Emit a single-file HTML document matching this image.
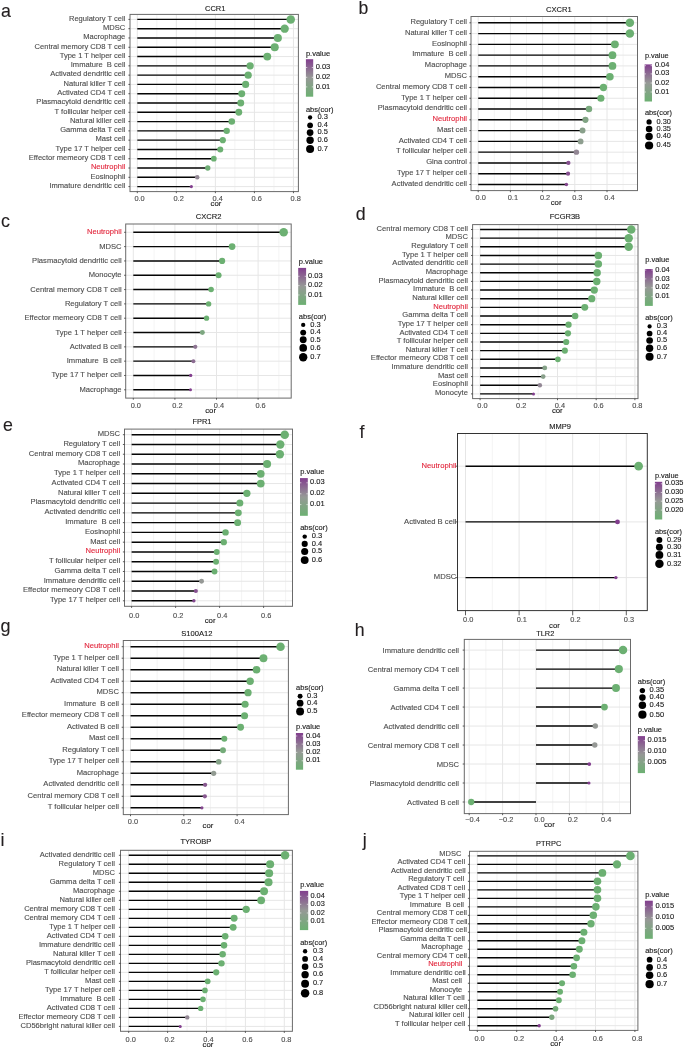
<!DOCTYPE html>
<html><head><meta charset="utf-8"><style>
html,body{margin:0;padding:0;background:#fff;width:685px;height:1049px;overflow:hidden}
svg{display:block;will-change:transform}
text{font-family:"Liberation Sans", sans-serif}
</style></head><body>
<svg width="685" height="1049" viewBox="0 0 685 1049">
<rect width="685" height="1049" fill="#fff"/>
<g>
<line x1="156.82" x2="156.82" y1="14.4" y2="191.6" stroke="#ececec" stroke-width="0.6"/>
<line x1="195.86" x2="195.86" y1="14.4" y2="191.6" stroke="#ececec" stroke-width="0.6"/>
<line x1="234.90" x2="234.90" y1="14.4" y2="191.6" stroke="#ececec" stroke-width="0.6"/>
<line x1="273.94" x2="273.94" y1="14.4" y2="191.6" stroke="#ececec" stroke-width="0.6"/>
<line x1="137.30" x2="137.30" y1="14.4" y2="191.6" stroke="#e6e6e6" stroke-width="1.0"/>
<line x1="176.34" x2="176.34" y1="14.4" y2="191.6" stroke="#e6e6e6" stroke-width="1.0"/>
<line x1="215.38" x2="215.38" y1="14.4" y2="191.6" stroke="#e6e6e6" stroke-width="1.0"/>
<line x1="254.42" x2="254.42" y1="14.4" y2="191.6" stroke="#e6e6e6" stroke-width="1.0"/>
<line x1="293.46" x2="293.46" y1="14.4" y2="191.6" stroke="#e6e6e6" stroke-width="1.0"/>
<line x1="130.0" x2="298.4" y1="19.40" y2="19.40" stroke="#e6e6e6" stroke-width="1.0"/>
<line x1="130.0" x2="298.4" y1="28.69" y2="28.69" stroke="#e6e6e6" stroke-width="1.0"/>
<line x1="130.0" x2="298.4" y1="37.98" y2="37.98" stroke="#e6e6e6" stroke-width="1.0"/>
<line x1="130.0" x2="298.4" y1="47.27" y2="47.27" stroke="#e6e6e6" stroke-width="1.0"/>
<line x1="130.0" x2="298.4" y1="56.56" y2="56.56" stroke="#e6e6e6" stroke-width="1.0"/>
<line x1="130.0" x2="298.4" y1="65.84" y2="65.84" stroke="#e6e6e6" stroke-width="1.0"/>
<line x1="130.0" x2="298.4" y1="75.13" y2="75.13" stroke="#e6e6e6" stroke-width="1.0"/>
<line x1="130.0" x2="298.4" y1="84.42" y2="84.42" stroke="#e6e6e6" stroke-width="1.0"/>
<line x1="130.0" x2="298.4" y1="93.71" y2="93.71" stroke="#e6e6e6" stroke-width="1.0"/>
<line x1="130.0" x2="298.4" y1="103.00" y2="103.00" stroke="#e6e6e6" stroke-width="1.0"/>
<line x1="130.0" x2="298.4" y1="112.29" y2="112.29" stroke="#e6e6e6" stroke-width="1.0"/>
<line x1="130.0" x2="298.4" y1="121.58" y2="121.58" stroke="#e6e6e6" stroke-width="1.0"/>
<line x1="130.0" x2="298.4" y1="130.87" y2="130.87" stroke="#e6e6e6" stroke-width="1.0"/>
<line x1="130.0" x2="298.4" y1="140.16" y2="140.16" stroke="#e6e6e6" stroke-width="1.0"/>
<line x1="130.0" x2="298.4" y1="149.44" y2="149.44" stroke="#e6e6e6" stroke-width="1.0"/>
<line x1="130.0" x2="298.4" y1="158.73" y2="158.73" stroke="#e6e6e6" stroke-width="1.0"/>
<line x1="130.0" x2="298.4" y1="168.02" y2="168.02" stroke="#e6e6e6" stroke-width="1.0"/>
<line x1="130.0" x2="298.4" y1="177.31" y2="177.31" stroke="#e6e6e6" stroke-width="1.0"/>
<line x1="130.0" x2="298.4" y1="186.60" y2="186.60" stroke="#e6e6e6" stroke-width="1.0"/>
<rect x="130.0" y="14.4" width="168.39999999999998" height="177.2" fill="none" stroke="#6a6a6a" stroke-width="1.0"/>
<line x1="128.4" x2="130.0" y1="19.40" y2="19.40" stroke="#333" stroke-width="0.8"/>
<line x1="128.4" x2="130.0" y1="28.69" y2="28.69" stroke="#333" stroke-width="0.8"/>
<line x1="128.4" x2="130.0" y1="37.98" y2="37.98" stroke="#333" stroke-width="0.8"/>
<line x1="128.4" x2="130.0" y1="47.27" y2="47.27" stroke="#333" stroke-width="0.8"/>
<line x1="128.4" x2="130.0" y1="56.56" y2="56.56" stroke="#333" stroke-width="0.8"/>
<line x1="128.4" x2="130.0" y1="65.84" y2="65.84" stroke="#333" stroke-width="0.8"/>
<line x1="128.4" x2="130.0" y1="75.13" y2="75.13" stroke="#333" stroke-width="0.8"/>
<line x1="128.4" x2="130.0" y1="84.42" y2="84.42" stroke="#333" stroke-width="0.8"/>
<line x1="128.4" x2="130.0" y1="93.71" y2="93.71" stroke="#333" stroke-width="0.8"/>
<line x1="128.4" x2="130.0" y1="103.00" y2="103.00" stroke="#333" stroke-width="0.8"/>
<line x1="128.4" x2="130.0" y1="112.29" y2="112.29" stroke="#333" stroke-width="0.8"/>
<line x1="128.4" x2="130.0" y1="121.58" y2="121.58" stroke="#333" stroke-width="0.8"/>
<line x1="128.4" x2="130.0" y1="130.87" y2="130.87" stroke="#333" stroke-width="0.8"/>
<line x1="128.4" x2="130.0" y1="140.16" y2="140.16" stroke="#333" stroke-width="0.8"/>
<line x1="128.4" x2="130.0" y1="149.44" y2="149.44" stroke="#333" stroke-width="0.8"/>
<line x1="128.4" x2="130.0" y1="158.73" y2="158.73" stroke="#333" stroke-width="0.8"/>
<line x1="128.4" x2="130.0" y1="168.02" y2="168.02" stroke="#333" stroke-width="0.8"/>
<line x1="128.4" x2="130.0" y1="177.31" y2="177.31" stroke="#333" stroke-width="0.8"/>
<line x1="128.4" x2="130.0" y1="186.60" y2="186.60" stroke="#333" stroke-width="0.8"/>
<line x1="137.30" x2="137.30" y1="191.6" y2="193.2" stroke="#333" stroke-width="0.8"/>
<line x1="176.34" x2="176.34" y1="191.6" y2="193.2" stroke="#333" stroke-width="0.8"/>
<line x1="215.38" x2="215.38" y1="191.6" y2="193.2" stroke="#333" stroke-width="0.8"/>
<line x1="254.42" x2="254.42" y1="191.6" y2="193.2" stroke="#333" stroke-width="0.8"/>
<line x1="293.46" x2="293.46" y1="191.6" y2="193.2" stroke="#333" stroke-width="0.8"/>
<line x1="137.30" x2="290.73" y1="19.40" y2="19.40" stroke="#050505" stroke-width="1.4"/>
<line x1="137.30" x2="284.68" y1="28.69" y2="28.69" stroke="#050505" stroke-width="1.4"/>
<line x1="137.30" x2="277.84" y1="37.98" y2="37.98" stroke="#050505" stroke-width="1.4"/>
<line x1="137.30" x2="274.72" y1="47.27" y2="47.27" stroke="#050505" stroke-width="1.4"/>
<line x1="137.30" x2="267.30" y1="56.56" y2="56.56" stroke="#050505" stroke-width="1.4"/>
<line x1="137.30" x2="250.13" y1="65.84" y2="65.84" stroke="#050505" stroke-width="1.4"/>
<line x1="137.30" x2="248.17" y1="75.13" y2="75.13" stroke="#050505" stroke-width="1.4"/>
<line x1="137.30" x2="245.64" y1="84.42" y2="84.42" stroke="#050505" stroke-width="1.4"/>
<line x1="137.30" x2="241.73" y1="93.71" y2="93.71" stroke="#050505" stroke-width="1.4"/>
<line x1="137.30" x2="240.76" y1="103.00" y2="103.00" stroke="#050505" stroke-width="1.4"/>
<line x1="137.30" x2="238.80" y1="112.29" y2="112.29" stroke="#050505" stroke-width="1.4"/>
<line x1="137.30" x2="231.78" y1="121.58" y2="121.58" stroke="#050505" stroke-width="1.4"/>
<line x1="137.30" x2="226.70" y1="130.87" y2="130.87" stroke="#050505" stroke-width="1.4"/>
<line x1="137.30" x2="222.80" y1="140.16" y2="140.16" stroke="#050505" stroke-width="1.4"/>
<line x1="137.30" x2="220.26" y1="149.44" y2="149.44" stroke="#050505" stroke-width="1.4"/>
<line x1="137.30" x2="213.82" y1="158.73" y2="158.73" stroke="#050505" stroke-width="1.4"/>
<line x1="137.30" x2="207.77" y1="168.02" y2="168.02" stroke="#050505" stroke-width="1.4"/>
<line x1="137.30" x2="197.23" y1="177.31" y2="177.31" stroke="#050505" stroke-width="1.4"/>
<line x1="137.30" x2="191.37" y1="186.60" y2="186.60" stroke="#050505" stroke-width="1.4"/>
<circle cx="290.73" cy="19.40" r="4.25" fill="#6cb072"/>
<circle cx="284.68" cy="28.69" r="4.17" fill="#6cb072"/>
<circle cx="277.84" cy="37.98" r="4.07" fill="#6cb072"/>
<circle cx="274.72" cy="47.27" r="4.03" fill="#6cb072"/>
<circle cx="267.30" cy="56.56" r="3.92" fill="#6cb072"/>
<circle cx="250.13" cy="65.84" r="3.64" fill="#6cb072"/>
<circle cx="248.17" cy="75.13" r="3.60" fill="#6cb072"/>
<circle cx="245.64" cy="84.42" r="3.56" fill="#6cb072"/>
<circle cx="241.73" cy="93.71" r="3.49" fill="#6cb072"/>
<circle cx="240.76" cy="103.00" r="3.47" fill="#6cb072"/>
<circle cx="238.80" cy="112.29" r="3.43" fill="#6cb072"/>
<circle cx="231.78" cy="121.58" r="3.29" fill="#6cb072"/>
<circle cx="226.70" cy="130.87" r="3.18" fill="#6cb072"/>
<circle cx="222.80" cy="140.16" r="3.09" fill="#6cb072"/>
<circle cx="220.26" cy="149.44" r="3.03" fill="#6cb072"/>
<circle cx="213.82" cy="158.73" r="2.86" fill="#6cb072"/>
<circle cx="207.77" cy="168.02" r="2.68" fill="#70ae76"/>
<circle cx="197.23" cy="177.31" r="2.24" fill="#928794"/>
<circle cx="191.37" cy="186.60" r="1.60" fill="#823e8e"/>
<text x="125.30" y="20.70" font-size="7.55" text-anchor="end" fill="#4d4d4d" stroke="#4d4d4d" stroke-width="0.12"  xml:space="preserve">Regulatory T cell</text>
<text x="125.30" y="29.99" font-size="7.55" text-anchor="end" fill="#4d4d4d" stroke="#4d4d4d" stroke-width="0.12"  xml:space="preserve">MDSC</text>
<text x="125.30" y="39.28" font-size="7.55" text-anchor="end" fill="#4d4d4d" stroke="#4d4d4d" stroke-width="0.12"  xml:space="preserve">Macrophage</text>
<text x="125.30" y="48.57" font-size="7.55" text-anchor="end" fill="#4d4d4d" stroke="#4d4d4d" stroke-width="0.12"  xml:space="preserve">Central memory CD8 T cell</text>
<text x="125.30" y="57.86" font-size="7.55" text-anchor="end" fill="#4d4d4d" stroke="#4d4d4d" stroke-width="0.12"  xml:space="preserve">Type 1 T helper cell</text>
<text x="125.30" y="67.14" font-size="7.55" text-anchor="end" fill="#4d4d4d" stroke="#4d4d4d" stroke-width="0.12"  xml:space="preserve">Immature  B cell</text>
<text x="125.30" y="76.43" font-size="7.55" text-anchor="end" fill="#4d4d4d" stroke="#4d4d4d" stroke-width="0.12"  xml:space="preserve">Activated dendritic cell</text>
<text x="125.30" y="85.72" font-size="7.55" text-anchor="end" fill="#4d4d4d" stroke="#4d4d4d" stroke-width="0.12"  xml:space="preserve">Natural killer T cell</text>
<text x="125.30" y="95.01" font-size="7.55" text-anchor="end" fill="#4d4d4d" stroke="#4d4d4d" stroke-width="0.12"  xml:space="preserve">Activated CD4 T cell</text>
<text x="125.30" y="104.30" font-size="7.55" text-anchor="end" fill="#4d4d4d" stroke="#4d4d4d" stroke-width="0.12"  xml:space="preserve">Plasmacytoid dendritic cell</text>
<text x="125.30" y="113.59" font-size="7.55" text-anchor="end" fill="#4d4d4d" stroke="#4d4d4d" stroke-width="0.12"  xml:space="preserve">T follicular helper cell</text>
<text x="125.30" y="122.88" font-size="7.55" text-anchor="end" fill="#4d4d4d" stroke="#4d4d4d" stroke-width="0.12"  xml:space="preserve">Natural killer cell</text>
<text x="125.30" y="132.17" font-size="7.55" text-anchor="end" fill="#4d4d4d" stroke="#4d4d4d" stroke-width="0.12"  xml:space="preserve">Gamma delta T cell</text>
<text x="125.30" y="141.46" font-size="7.55" text-anchor="end" fill="#4d4d4d" stroke="#4d4d4d" stroke-width="0.12"  xml:space="preserve">Mast cell</text>
<text x="125.30" y="150.74" font-size="7.55" text-anchor="end" fill="#4d4d4d" stroke="#4d4d4d" stroke-width="0.12"  xml:space="preserve">Type 17 T helper cell</text>
<text x="125.30" y="160.03" font-size="7.55" text-anchor="end" fill="#4d4d4d" stroke="#4d4d4d" stroke-width="0.12"  xml:space="preserve">Effector memeory CD8 T cell</text>
<text x="125.30" y="169.32" font-size="7.55" text-anchor="end" fill="#e2263c" stroke="#e2263c" stroke-width="0.12"  xml:space="preserve">Neutrophil</text>
<text x="125.30" y="178.61" font-size="7.55" text-anchor="end" fill="#4d4d4d" stroke="#4d4d4d" stroke-width="0.12"  xml:space="preserve">Eosinophil</text>
<text x="125.30" y="187.90" font-size="7.55" text-anchor="end" fill="#4d4d4d" stroke="#4d4d4d" stroke-width="0.12"  xml:space="preserve">Immature dendritic cell</text>
<text x="139.60" y="201.00" font-size="7.4" text-anchor="middle" fill="#4d4d4d" stroke="#4d4d4d" stroke-width="0.12"  xml:space="preserve">0.0</text>
<text x="178.64" y="201.00" font-size="7.4" text-anchor="middle" fill="#4d4d4d" stroke="#4d4d4d" stroke-width="0.12"  xml:space="preserve">0.2</text>
<text x="217.68" y="201.00" font-size="7.4" text-anchor="middle" fill="#4d4d4d" stroke="#4d4d4d" stroke-width="0.12"  xml:space="preserve">0.4</text>
<text x="256.72" y="201.00" font-size="7.4" text-anchor="middle" fill="#4d4d4d" stroke="#4d4d4d" stroke-width="0.12"  xml:space="preserve">0.6</text>
<text x="295.76" y="201.00" font-size="7.4" text-anchor="middle" fill="#4d4d4d" stroke="#4d4d4d" stroke-width="0.12"  xml:space="preserve">0.8</text>
<text x="216.00" y="206.40" font-size="7.8" text-anchor="middle" fill="#1a1a1a" stroke="#1a1a1a" stroke-width="0.12"  xml:space="preserve">cor</text>
<text x="215.20" y="11.30" font-size="7.5" text-anchor="middle" fill="#1a1a1a" stroke="#1a1a1a" stroke-width="0.12"  xml:space="preserve">CCR1</text>
<text x="0.90" y="16.50" font-size="17.8" text-anchor="start" fill="#231f20" stroke="#231f20" stroke-width="0.12"  xml:space="preserve">a</text>
<text x="305.90" y="55.80" font-size="7.5" text-anchor="start" fill="#1a1a1a" stroke="#1a1a1a" stroke-width="0.12"  xml:space="preserve">p.value</text>
<defs><linearGradient id="g120" x1="0" y1="0" x2="0" y2="1"><stop offset="0" stop-color="#823e8e"/><stop offset="0.5" stop-color="#969996"/><stop offset="1" stop-color="#6cb072"/></linearGradient></defs>
<rect x="305.9" y="59.2" width="7.300000000000011" height="37.5" fill="url(#g120)"/>
<line x1="305.9" x2="307.29999999999995" y1="67.5" y2="67.5" stroke="#fff" stroke-width="0.6"/>
<line x1="311.8" x2="313.2" y1="67.5" y2="67.5" stroke="#fff" stroke-width="0.6"/>
<text x="315.70" y="69.10" font-size="7.5" text-anchor="start" fill="#1a1a1a" stroke="#1a1a1a" stroke-width="0.12"  xml:space="preserve">0.03</text>
<line x1="305.9" x2="307.29999999999995" y1="77.3" y2="77.3" stroke="#fff" stroke-width="0.6"/>
<line x1="311.8" x2="313.2" y1="77.3" y2="77.3" stroke="#fff" stroke-width="0.6"/>
<text x="315.70" y="78.90" font-size="7.5" text-anchor="start" fill="#1a1a1a" stroke="#1a1a1a" stroke-width="0.12"  xml:space="preserve">0.02</text>
<line x1="305.9" x2="307.29999999999995" y1="86.89999999999999" y2="86.89999999999999" stroke="#fff" stroke-width="0.6"/>
<line x1="311.8" x2="313.2" y1="86.89999999999999" y2="86.89999999999999" stroke="#fff" stroke-width="0.6"/>
<text x="315.70" y="88.50" font-size="7.5" text-anchor="start" fill="#1a1a1a" stroke="#1a1a1a" stroke-width="0.12"  xml:space="preserve">0.01</text>
<text x="305.90" y="112.10" font-size="7.5" text-anchor="start" fill="#1a1a1a" stroke="#1a1a1a" stroke-width="0.12"  xml:space="preserve">abs(cor)</text>
<circle cx="310.1" cy="117.5" r="2.16" fill="#000"/>
<text x="317.40" y="119.30" font-size="7.5" text-anchor="start" fill="#1a1a1a" stroke="#1a1a1a" stroke-width="0.12"  xml:space="preserve">0.3</text>
<circle cx="310.1" cy="125.3" r="2.90" fill="#000"/>
<text x="317.40" y="127.10" font-size="7.5" text-anchor="start" fill="#1a1a1a" stroke="#1a1a1a" stroke-width="0.12"  xml:space="preserve">0.4</text>
<circle cx="310.1" cy="132.6" r="3.35" fill="#000"/>
<text x="317.40" y="134.40" font-size="7.5" text-anchor="start" fill="#1a1a1a" stroke="#1a1a1a" stroke-width="0.12"  xml:space="preserve">0.5</text>
<circle cx="310.1" cy="140.3" r="3.71" fill="#000"/>
<text x="317.40" y="142.10" font-size="7.5" text-anchor="start" fill="#1a1a1a" stroke="#1a1a1a" stroke-width="0.12"  xml:space="preserve">0.6</text>
<circle cx="310.1" cy="148.9" r="4.02" fill="#000"/>
<text x="317.40" y="150.70" font-size="7.5" text-anchor="start" fill="#1a1a1a" stroke="#1a1a1a" stroke-width="0.12"  xml:space="preserve">0.7</text>
</g>
<g>
<line x1="494.30" x2="494.30" y1="16.5" y2="190.6" stroke="#ececec" stroke-width="0.6"/>
<line x1="526.50" x2="526.50" y1="16.5" y2="190.6" stroke="#ececec" stroke-width="0.6"/>
<line x1="558.70" x2="558.70" y1="16.5" y2="190.6" stroke="#ececec" stroke-width="0.6"/>
<line x1="590.90" x2="590.90" y1="16.5" y2="190.6" stroke="#ececec" stroke-width="0.6"/>
<line x1="623.10" x2="623.10" y1="16.5" y2="190.6" stroke="#ececec" stroke-width="0.6"/>
<line x1="478.20" x2="478.20" y1="16.5" y2="190.6" stroke="#e6e6e6" stroke-width="1.0"/>
<line x1="510.40" x2="510.40" y1="16.5" y2="190.6" stroke="#e6e6e6" stroke-width="1.0"/>
<line x1="542.60" x2="542.60" y1="16.5" y2="190.6" stroke="#e6e6e6" stroke-width="1.0"/>
<line x1="574.80" x2="574.80" y1="16.5" y2="190.6" stroke="#e6e6e6" stroke-width="1.0"/>
<line x1="607.00" x2="607.00" y1="16.5" y2="190.6" stroke="#e6e6e6" stroke-width="1.0"/>
<line x1="471.0" x2="637.5" y1="22.80" y2="22.80" stroke="#e6e6e6" stroke-width="1.0"/>
<line x1="471.0" x2="637.5" y1="33.58" y2="33.58" stroke="#e6e6e6" stroke-width="1.0"/>
<line x1="471.0" x2="637.5" y1="44.36" y2="44.36" stroke="#e6e6e6" stroke-width="1.0"/>
<line x1="471.0" x2="637.5" y1="55.14" y2="55.14" stroke="#e6e6e6" stroke-width="1.0"/>
<line x1="471.0" x2="637.5" y1="65.92" y2="65.92" stroke="#e6e6e6" stroke-width="1.0"/>
<line x1="471.0" x2="637.5" y1="76.70" y2="76.70" stroke="#e6e6e6" stroke-width="1.0"/>
<line x1="471.0" x2="637.5" y1="87.48" y2="87.48" stroke="#e6e6e6" stroke-width="1.0"/>
<line x1="471.0" x2="637.5" y1="98.26" y2="98.26" stroke="#e6e6e6" stroke-width="1.0"/>
<line x1="471.0" x2="637.5" y1="109.04" y2="109.04" stroke="#e6e6e6" stroke-width="1.0"/>
<line x1="471.0" x2="637.5" y1="119.82" y2="119.82" stroke="#e6e6e6" stroke-width="1.0"/>
<line x1="471.0" x2="637.5" y1="130.60" y2="130.60" stroke="#e6e6e6" stroke-width="1.0"/>
<line x1="471.0" x2="637.5" y1="141.38" y2="141.38" stroke="#e6e6e6" stroke-width="1.0"/>
<line x1="471.0" x2="637.5" y1="152.16" y2="152.16" stroke="#e6e6e6" stroke-width="1.0"/>
<line x1="471.0" x2="637.5" y1="162.94" y2="162.94" stroke="#e6e6e6" stroke-width="1.0"/>
<line x1="471.0" x2="637.5" y1="173.72" y2="173.72" stroke="#e6e6e6" stroke-width="1.0"/>
<line x1="471.0" x2="637.5" y1="184.50" y2="184.50" stroke="#e6e6e6" stroke-width="1.0"/>
<rect x="471.0" y="16.5" width="166.5" height="174.1" fill="none" stroke="#6a6a6a" stroke-width="1.0"/>
<line x1="469.4" x2="471.0" y1="22.80" y2="22.80" stroke="#333" stroke-width="0.8"/>
<line x1="469.4" x2="471.0" y1="33.58" y2="33.58" stroke="#333" stroke-width="0.8"/>
<line x1="469.4" x2="471.0" y1="44.36" y2="44.36" stroke="#333" stroke-width="0.8"/>
<line x1="469.4" x2="471.0" y1="55.14" y2="55.14" stroke="#333" stroke-width="0.8"/>
<line x1="469.4" x2="471.0" y1="65.92" y2="65.92" stroke="#333" stroke-width="0.8"/>
<line x1="469.4" x2="471.0" y1="76.70" y2="76.70" stroke="#333" stroke-width="0.8"/>
<line x1="469.4" x2="471.0" y1="87.48" y2="87.48" stroke="#333" stroke-width="0.8"/>
<line x1="469.4" x2="471.0" y1="98.26" y2="98.26" stroke="#333" stroke-width="0.8"/>
<line x1="469.4" x2="471.0" y1="109.04" y2="109.04" stroke="#333" stroke-width="0.8"/>
<line x1="469.4" x2="471.0" y1="119.82" y2="119.82" stroke="#333" stroke-width="0.8"/>
<line x1="469.4" x2="471.0" y1="130.60" y2="130.60" stroke="#333" stroke-width="0.8"/>
<line x1="469.4" x2="471.0" y1="141.38" y2="141.38" stroke="#333" stroke-width="0.8"/>
<line x1="469.4" x2="471.0" y1="152.16" y2="152.16" stroke="#333" stroke-width="0.8"/>
<line x1="469.4" x2="471.0" y1="162.94" y2="162.94" stroke="#333" stroke-width="0.8"/>
<line x1="469.4" x2="471.0" y1="173.72" y2="173.72" stroke="#333" stroke-width="0.8"/>
<line x1="469.4" x2="471.0" y1="184.50" y2="184.50" stroke="#333" stroke-width="0.8"/>
<line x1="478.20" x2="478.20" y1="190.6" y2="192.2" stroke="#333" stroke-width="0.8"/>
<line x1="510.40" x2="510.40" y1="190.6" y2="192.2" stroke="#333" stroke-width="0.8"/>
<line x1="542.60" x2="542.60" y1="190.6" y2="192.2" stroke="#333" stroke-width="0.8"/>
<line x1="574.80" x2="574.80" y1="190.6" y2="192.2" stroke="#333" stroke-width="0.8"/>
<line x1="607.00" x2="607.00" y1="190.6" y2="192.2" stroke="#333" stroke-width="0.8"/>
<line x1="478.20" x2="629.86" y1="22.80" y2="22.80" stroke="#050505" stroke-width="1.4"/>
<line x1="478.20" x2="629.86" y1="33.58" y2="33.58" stroke="#050505" stroke-width="1.4"/>
<line x1="478.20" x2="614.89" y1="44.36" y2="44.36" stroke="#050505" stroke-width="1.4"/>
<line x1="478.20" x2="612.47" y1="55.14" y2="55.14" stroke="#050505" stroke-width="1.4"/>
<line x1="478.20" x2="612.47" y1="65.92" y2="65.92" stroke="#050505" stroke-width="1.4"/>
<line x1="478.20" x2="609.90" y1="76.70" y2="76.70" stroke="#050505" stroke-width="1.4"/>
<line x1="478.20" x2="603.46" y1="87.48" y2="87.48" stroke="#050505" stroke-width="1.4"/>
<line x1="478.20" x2="600.88" y1="98.26" y2="98.26" stroke="#050505" stroke-width="1.4"/>
<line x1="478.20" x2="588.97" y1="109.04" y2="109.04" stroke="#050505" stroke-width="1.4"/>
<line x1="478.20" x2="585.43" y1="119.82" y2="119.82" stroke="#050505" stroke-width="1.4"/>
<line x1="478.20" x2="582.53" y1="130.60" y2="130.60" stroke="#050505" stroke-width="1.4"/>
<line x1="478.20" x2="580.60" y1="141.38" y2="141.38" stroke="#050505" stroke-width="1.4"/>
<line x1="478.20" x2="576.41" y1="152.16" y2="152.16" stroke="#050505" stroke-width="1.4"/>
<line x1="478.20" x2="568.36" y1="162.94" y2="162.94" stroke="#050505" stroke-width="1.4"/>
<line x1="478.20" x2="568.04" y1="173.72" y2="173.72" stroke="#050505" stroke-width="1.4"/>
<line x1="478.20" x2="566.43" y1="184.50" y2="184.50" stroke="#050505" stroke-width="1.4"/>
<circle cx="629.86" cy="22.80" r="4.25" fill="#6cb072"/>
<circle cx="629.86" cy="33.58" r="4.25" fill="#6cb072"/>
<circle cx="614.89" cy="44.36" r="3.93" fill="#6cb072"/>
<circle cx="612.47" cy="55.14" r="3.87" fill="#6cb072"/>
<circle cx="612.47" cy="65.92" r="3.87" fill="#6cb072"/>
<circle cx="609.90" cy="76.70" r="3.81" fill="#6cb072"/>
<circle cx="603.46" cy="87.48" r="3.65" fill="#6cb072"/>
<circle cx="600.88" cy="98.26" r="3.58" fill="#6cb072"/>
<circle cx="588.97" cy="109.04" r="3.22" fill="#79a97d"/>
<circle cx="585.43" cy="119.82" r="3.10" fill="#81a484"/>
<circle cx="582.53" cy="130.60" r="2.98" fill="#89a08b"/>
<circle cx="580.60" cy="141.38" r="2.91" fill="#8e9e8f"/>
<circle cx="576.41" cy="152.16" r="2.71" fill="#928794"/>
<circle cx="568.36" cy="162.94" r="2.15" fill="#865090"/>
<circle cx="568.04" cy="173.72" r="2.11" fill="#865090"/>
<circle cx="566.43" cy="184.50" r="1.70" fill="#84478f"/>
<text x="467.00" y="24.10" font-size="7.58" text-anchor="end" fill="#4d4d4d" stroke="#4d4d4d" stroke-width="0.12"  xml:space="preserve">Regulatory T cell</text>
<text x="467.00" y="34.88" font-size="7.58" text-anchor="end" fill="#4d4d4d" stroke="#4d4d4d" stroke-width="0.12"  xml:space="preserve">Natural killer T cell</text>
<text x="467.00" y="45.66" font-size="7.58" text-anchor="end" fill="#4d4d4d" stroke="#4d4d4d" stroke-width="0.12"  xml:space="preserve">Eosinophil</text>
<text x="467.00" y="56.44" font-size="7.58" text-anchor="end" fill="#4d4d4d" stroke="#4d4d4d" stroke-width="0.12"  xml:space="preserve">Immature  B cell</text>
<text x="467.00" y="67.22" font-size="7.58" text-anchor="end" fill="#4d4d4d" stroke="#4d4d4d" stroke-width="0.12"  xml:space="preserve">Macrophage</text>
<text x="467.00" y="78.00" font-size="7.58" text-anchor="end" fill="#4d4d4d" stroke="#4d4d4d" stroke-width="0.12"  xml:space="preserve">MDSC</text>
<text x="467.00" y="88.78" font-size="7.58" text-anchor="end" fill="#4d4d4d" stroke="#4d4d4d" stroke-width="0.12"  xml:space="preserve">Central memory CD8 T cell</text>
<text x="467.00" y="99.56" font-size="7.58" text-anchor="end" fill="#4d4d4d" stroke="#4d4d4d" stroke-width="0.12"  xml:space="preserve">Type 1 T helper cell</text>
<text x="467.00" y="110.34" font-size="7.58" text-anchor="end" fill="#4d4d4d" stroke="#4d4d4d" stroke-width="0.12"  xml:space="preserve">Plasmacytoid dendritic cell</text>
<text x="467.00" y="121.12" font-size="7.58" text-anchor="end" fill="#e2263c" stroke="#e2263c" stroke-width="0.12"  xml:space="preserve">Neutrophil</text>
<text x="467.00" y="131.90" font-size="7.58" text-anchor="end" fill="#4d4d4d" stroke="#4d4d4d" stroke-width="0.12"  xml:space="preserve">Mast cell</text>
<text x="467.00" y="142.68" font-size="7.58" text-anchor="end" fill="#4d4d4d" stroke="#4d4d4d" stroke-width="0.12"  xml:space="preserve">Activated CD4 T cell</text>
<text x="467.00" y="153.46" font-size="7.58" text-anchor="end" fill="#4d4d4d" stroke="#4d4d4d" stroke-width="0.12"  xml:space="preserve">T follicular helper cell</text>
<text x="467.00" y="164.24" font-size="7.58" text-anchor="end" fill="#4d4d4d" stroke="#4d4d4d" stroke-width="0.12"  xml:space="preserve">Gina control</text>
<text x="467.00" y="175.02" font-size="7.58" text-anchor="end" fill="#4d4d4d" stroke="#4d4d4d" stroke-width="0.12"  xml:space="preserve">Type 17 T helper cell</text>
<text x="467.00" y="185.80" font-size="7.58" text-anchor="end" fill="#4d4d4d" stroke="#4d4d4d" stroke-width="0.12"  xml:space="preserve">Activated dendritic cell</text>
<text x="480.70" y="200.00" font-size="7.4" text-anchor="middle" fill="#4d4d4d" stroke="#4d4d4d" stroke-width="0.12"  xml:space="preserve">0.0</text>
<text x="512.90" y="200.00" font-size="7.4" text-anchor="middle" fill="#4d4d4d" stroke="#4d4d4d" stroke-width="0.12"  xml:space="preserve">0.1</text>
<text x="545.10" y="200.00" font-size="7.4" text-anchor="middle" fill="#4d4d4d" stroke="#4d4d4d" stroke-width="0.12"  xml:space="preserve">0.2</text>
<text x="577.30" y="200.00" font-size="7.4" text-anchor="middle" fill="#4d4d4d" stroke="#4d4d4d" stroke-width="0.12"  xml:space="preserve">0.3</text>
<text x="609.50" y="200.00" font-size="7.4" text-anchor="middle" fill="#4d4d4d" stroke="#4d4d4d" stroke-width="0.12"  xml:space="preserve">0.4</text>
<text x="556.10" y="205.00" font-size="7.8" text-anchor="middle" fill="#1a1a1a" stroke="#1a1a1a" stroke-width="0.12"  xml:space="preserve">cor</text>
<text x="558.80" y="11.60" font-size="7.6" text-anchor="middle" fill="#1a1a1a" stroke="#1a1a1a" stroke-width="0.12"  xml:space="preserve">CXCR1</text>
<text x="358.50" y="14.00" font-size="17.6" text-anchor="start" fill="#231f20" stroke="#231f20" stroke-width="0.12"  xml:space="preserve">b</text>
<text x="644.90" y="58.10" font-size="7.4" text-anchor="start" fill="#1a1a1a" stroke="#1a1a1a" stroke-width="0.12"  xml:space="preserve">p.value</text>
<defs><linearGradient id="g249" x1="0" y1="0" x2="0" y2="1"><stop offset="0" stop-color="#823e8e"/><stop offset="0.5" stop-color="#969996"/><stop offset="1" stop-color="#6cb072"/></linearGradient></defs>
<rect x="644.6" y="64.4" width="7.399999999999977" height="37.099999999999994" fill="url(#g249)"/>
<line x1="644.6" x2="646.0" y1="65.7" y2="65.7" stroke="#fff" stroke-width="0.6"/>
<line x1="650.6" x2="652.0" y1="65.7" y2="65.7" stroke="#fff" stroke-width="0.6"/>
<text x="654.90" y="67.26" font-size="7.4" text-anchor="start" fill="#1a1a1a" stroke="#1a1a1a" stroke-width="0.12"  xml:space="preserve">0.04</text>
<line x1="644.6" x2="646.0" y1="73.89999999999999" y2="73.89999999999999" stroke="#fff" stroke-width="0.6"/>
<line x1="650.6" x2="652.0" y1="73.89999999999999" y2="73.89999999999999" stroke="#fff" stroke-width="0.6"/>
<text x="654.90" y="75.46" font-size="7.4" text-anchor="start" fill="#1a1a1a" stroke="#1a1a1a" stroke-width="0.12"  xml:space="preserve">0.03</text>
<line x1="644.6" x2="646.0" y1="83.0" y2="83.0" stroke="#fff" stroke-width="0.6"/>
<line x1="650.6" x2="652.0" y1="83.0" y2="83.0" stroke="#fff" stroke-width="0.6"/>
<text x="654.90" y="84.56" font-size="7.4" text-anchor="start" fill="#1a1a1a" stroke="#1a1a1a" stroke-width="0.12"  xml:space="preserve">0.02</text>
<line x1="644.6" x2="646.0" y1="92.0" y2="92.0" stroke="#fff" stroke-width="0.6"/>
<line x1="650.6" x2="652.0" y1="92.0" y2="92.0" stroke="#fff" stroke-width="0.6"/>
<text x="654.90" y="93.56" font-size="7.4" text-anchor="start" fill="#1a1a1a" stroke="#1a1a1a" stroke-width="0.12"  xml:space="preserve">0.01</text>
<text x="644.90" y="114.80" font-size="7.4" text-anchor="start" fill="#1a1a1a" stroke="#1a1a1a" stroke-width="0.12"  xml:space="preserve">abs(cor)</text>
<circle cx="649.1" cy="121.9" r="2.63" fill="#000"/>
<text x="656.50" y="123.66" font-size="7.4" text-anchor="start" fill="#1a1a1a" stroke="#1a1a1a" stroke-width="0.12"  xml:space="preserve">0.30</text>
<circle cx="649.1" cy="129.0" r="3.28" fill="#000"/>
<text x="656.50" y="130.76" font-size="7.4" text-anchor="start" fill="#1a1a1a" stroke="#1a1a1a" stroke-width="0.12"  xml:space="preserve">0.35</text>
<circle cx="649.1" cy="136.6" r="3.74" fill="#000"/>
<text x="656.50" y="138.36" font-size="7.4" text-anchor="start" fill="#1a1a1a" stroke="#1a1a1a" stroke-width="0.12"  xml:space="preserve">0.40</text>
<circle cx="649.1" cy="145.5" r="4.11" fill="#000"/>
<text x="656.50" y="147.26" font-size="7.4" text-anchor="start" fill="#1a1a1a" stroke="#1a1a1a" stroke-width="0.12"  xml:space="preserve">0.45</text>
</g>
<g>
<line x1="154.10" x2="154.10" y1="224.0" y2="398.1" stroke="#ececec" stroke-width="0.6"/>
<line x1="195.70" x2="195.70" y1="224.0" y2="398.1" stroke="#ececec" stroke-width="0.6"/>
<line x1="237.30" x2="237.30" y1="224.0" y2="398.1" stroke="#ececec" stroke-width="0.6"/>
<line x1="278.90" x2="278.90" y1="224.0" y2="398.1" stroke="#ececec" stroke-width="0.6"/>
<line x1="133.30" x2="133.30" y1="224.0" y2="398.1" stroke="#e6e6e6" stroke-width="1.0"/>
<line x1="174.90" x2="174.90" y1="224.0" y2="398.1" stroke="#e6e6e6" stroke-width="1.0"/>
<line x1="216.50" x2="216.50" y1="224.0" y2="398.1" stroke="#e6e6e6" stroke-width="1.0"/>
<line x1="258.10" x2="258.10" y1="224.0" y2="398.1" stroke="#e6e6e6" stroke-width="1.0"/>
<line x1="125.7" x2="291.2" y1="232.30" y2="232.30" stroke="#e6e6e6" stroke-width="1.0"/>
<line x1="125.7" x2="291.2" y1="246.62" y2="246.62" stroke="#e6e6e6" stroke-width="1.0"/>
<line x1="125.7" x2="291.2" y1="260.94" y2="260.94" stroke="#e6e6e6" stroke-width="1.0"/>
<line x1="125.7" x2="291.2" y1="275.25" y2="275.25" stroke="#e6e6e6" stroke-width="1.0"/>
<line x1="125.7" x2="291.2" y1="289.57" y2="289.57" stroke="#e6e6e6" stroke-width="1.0"/>
<line x1="125.7" x2="291.2" y1="303.89" y2="303.89" stroke="#e6e6e6" stroke-width="1.0"/>
<line x1="125.7" x2="291.2" y1="318.21" y2="318.21" stroke="#e6e6e6" stroke-width="1.0"/>
<line x1="125.7" x2="291.2" y1="332.53" y2="332.53" stroke="#e6e6e6" stroke-width="1.0"/>
<line x1="125.7" x2="291.2" y1="346.85" y2="346.85" stroke="#e6e6e6" stroke-width="1.0"/>
<line x1="125.7" x2="291.2" y1="361.16" y2="361.16" stroke="#e6e6e6" stroke-width="1.0"/>
<line x1="125.7" x2="291.2" y1="375.48" y2="375.48" stroke="#e6e6e6" stroke-width="1.0"/>
<line x1="125.7" x2="291.2" y1="389.80" y2="389.80" stroke="#e6e6e6" stroke-width="1.0"/>
<rect x="125.7" y="224.0" width="165.5" height="174.10000000000002" fill="none" stroke="#6a6a6a" stroke-width="1.0"/>
<line x1="124.10000000000001" x2="125.7" y1="232.30" y2="232.30" stroke="#333" stroke-width="0.8"/>
<line x1="124.10000000000001" x2="125.7" y1="246.62" y2="246.62" stroke="#333" stroke-width="0.8"/>
<line x1="124.10000000000001" x2="125.7" y1="260.94" y2="260.94" stroke="#333" stroke-width="0.8"/>
<line x1="124.10000000000001" x2="125.7" y1="275.25" y2="275.25" stroke="#333" stroke-width="0.8"/>
<line x1="124.10000000000001" x2="125.7" y1="289.57" y2="289.57" stroke="#333" stroke-width="0.8"/>
<line x1="124.10000000000001" x2="125.7" y1="303.89" y2="303.89" stroke="#333" stroke-width="0.8"/>
<line x1="124.10000000000001" x2="125.7" y1="318.21" y2="318.21" stroke="#333" stroke-width="0.8"/>
<line x1="124.10000000000001" x2="125.7" y1="332.53" y2="332.53" stroke="#333" stroke-width="0.8"/>
<line x1="124.10000000000001" x2="125.7" y1="346.85" y2="346.85" stroke="#333" stroke-width="0.8"/>
<line x1="124.10000000000001" x2="125.7" y1="361.16" y2="361.16" stroke="#333" stroke-width="0.8"/>
<line x1="124.10000000000001" x2="125.7" y1="375.48" y2="375.48" stroke="#333" stroke-width="0.8"/>
<line x1="124.10000000000001" x2="125.7" y1="389.80" y2="389.80" stroke="#333" stroke-width="0.8"/>
<line x1="133.30" x2="133.30" y1="398.1" y2="399.70000000000005" stroke="#333" stroke-width="0.8"/>
<line x1="174.90" x2="174.90" y1="398.1" y2="399.70000000000005" stroke="#333" stroke-width="0.8"/>
<line x1="216.50" x2="216.50" y1="398.1" y2="399.70000000000005" stroke="#333" stroke-width="0.8"/>
<line x1="258.10" x2="258.10" y1="398.1" y2="399.70000000000005" stroke="#333" stroke-width="0.8"/>
<line x1="133.30" x2="283.68" y1="232.30" y2="232.30" stroke="#050505" stroke-width="1.4"/>
<line x1="133.30" x2="232.10" y1="246.62" y2="246.62" stroke="#050505" stroke-width="1.4"/>
<line x1="133.30" x2="222.12" y1="260.94" y2="260.94" stroke="#050505" stroke-width="1.4"/>
<line x1="133.30" x2="218.58" y1="275.25" y2="275.25" stroke="#050505" stroke-width="1.4"/>
<line x1="133.30" x2="211.09" y1="289.57" y2="289.57" stroke="#050505" stroke-width="1.4"/>
<line x1="133.30" x2="208.60" y1="303.89" y2="303.89" stroke="#050505" stroke-width="1.4"/>
<line x1="133.30" x2="206.52" y1="318.21" y2="318.21" stroke="#050505" stroke-width="1.4"/>
<line x1="133.30" x2="202.36" y1="332.53" y2="332.53" stroke="#050505" stroke-width="1.4"/>
<line x1="133.30" x2="195.28" y1="346.85" y2="346.85" stroke="#050505" stroke-width="1.4"/>
<line x1="133.30" x2="193.41" y1="361.16" y2="361.16" stroke="#050505" stroke-width="1.4"/>
<line x1="133.30" x2="190.71" y1="375.48" y2="375.48" stroke="#050505" stroke-width="1.4"/>
<line x1="133.30" x2="190.50" y1="389.80" y2="389.80" stroke="#050505" stroke-width="1.4"/>
<circle cx="283.68" cy="232.30" r="4.25" fill="#6cb072"/>
<circle cx="232.10" cy="246.62" r="3.34" fill="#6cb072"/>
<circle cx="222.12" cy="260.94" r="3.10" fill="#6cb072"/>
<circle cx="218.58" cy="275.25" r="3.01" fill="#6cb072"/>
<circle cx="211.09" cy="289.57" r="2.79" fill="#6cb072"/>
<circle cx="208.60" cy="303.89" r="2.71" fill="#6cb072"/>
<circle cx="206.52" cy="318.21" r="2.64" fill="#6cb072"/>
<circle cx="202.36" cy="332.53" r="2.48" fill="#7da780"/>
<circle cx="195.28" cy="346.85" r="2.12" fill="#8e7593"/>
<circle cx="193.41" cy="361.16" r="1.99" fill="#8c6c92"/>
<circle cx="190.71" cy="375.48" r="1.63" fill="#823e8e"/>
<circle cx="190.50" cy="389.80" r="1.50" fill="#823e8e"/>
<text x="121.60" y="234.30" font-size="7.6" text-anchor="end" fill="#e2263c" stroke="#e2263c" stroke-width="0.12"  xml:space="preserve">Neutrophil</text>
<text x="121.60" y="248.62" font-size="7.6" text-anchor="end" fill="#4d4d4d" stroke="#4d4d4d" stroke-width="0.12"  xml:space="preserve">MDSC</text>
<text x="121.60" y="262.94" font-size="7.6" text-anchor="end" fill="#4d4d4d" stroke="#4d4d4d" stroke-width="0.12"  xml:space="preserve">Plasmacytoid dendritic cell</text>
<text x="121.60" y="277.25" font-size="7.6" text-anchor="end" fill="#4d4d4d" stroke="#4d4d4d" stroke-width="0.12"  xml:space="preserve">Monocyte</text>
<text x="121.60" y="291.57" font-size="7.6" text-anchor="end" fill="#4d4d4d" stroke="#4d4d4d" stroke-width="0.12"  xml:space="preserve">Central memory CD8 T cell</text>
<text x="121.60" y="305.89" font-size="7.6" text-anchor="end" fill="#4d4d4d" stroke="#4d4d4d" stroke-width="0.12"  xml:space="preserve">Regulatory T cell</text>
<text x="121.60" y="320.21" font-size="7.6" text-anchor="end" fill="#4d4d4d" stroke="#4d4d4d" stroke-width="0.12"  xml:space="preserve">Effector memeory CD8 T cell</text>
<text x="121.60" y="334.53" font-size="7.6" text-anchor="end" fill="#4d4d4d" stroke="#4d4d4d" stroke-width="0.12"  xml:space="preserve">Type 1 T helper cell</text>
<text x="121.60" y="348.85" font-size="7.6" text-anchor="end" fill="#4d4d4d" stroke="#4d4d4d" stroke-width="0.12"  xml:space="preserve">Activated B cell</text>
<text x="121.60" y="363.16" font-size="7.6" text-anchor="end" fill="#4d4d4d" stroke="#4d4d4d" stroke-width="0.12"  xml:space="preserve">Immature  B cell</text>
<text x="121.60" y="377.48" font-size="7.6" text-anchor="end" fill="#4d4d4d" stroke="#4d4d4d" stroke-width="0.12"  xml:space="preserve">Type 17 T helper cell</text>
<text x="121.60" y="391.80" font-size="7.6" text-anchor="end" fill="#4d4d4d" stroke="#4d4d4d" stroke-width="0.12"  xml:space="preserve">Macrophage</text>
<text x="135.80" y="407.60" font-size="7.4" text-anchor="middle" fill="#4d4d4d" stroke="#4d4d4d" stroke-width="0.12"  xml:space="preserve">0.0</text>
<text x="177.40" y="407.60" font-size="7.4" text-anchor="middle" fill="#4d4d4d" stroke="#4d4d4d" stroke-width="0.12"  xml:space="preserve">0.2</text>
<text x="219.00" y="407.60" font-size="7.4" text-anchor="middle" fill="#4d4d4d" stroke="#4d4d4d" stroke-width="0.12"  xml:space="preserve">0.4</text>
<text x="260.60" y="407.60" font-size="7.4" text-anchor="middle" fill="#4d4d4d" stroke="#4d4d4d" stroke-width="0.12"  xml:space="preserve">0.6</text>
<text x="210.60" y="412.60" font-size="7.8" text-anchor="middle" fill="#1a1a1a" stroke="#1a1a1a" stroke-width="0.12"  xml:space="preserve">cor</text>
<text x="208.60" y="218.60" font-size="7.6" text-anchor="middle" fill="#1a1a1a" stroke="#1a1a1a" stroke-width="0.12"  xml:space="preserve">CXCR2</text>
<text x="1.00" y="226.80" font-size="17.8" text-anchor="start" fill="#231f20" stroke="#231f20" stroke-width="0.12"  xml:space="preserve">c</text>
<text x="298.80" y="264.30" font-size="7.5" text-anchor="start" fill="#1a1a1a" stroke="#1a1a1a" stroke-width="0.12"  xml:space="preserve">p.value</text>
<defs><linearGradient id="g355" x1="0" y1="0" x2="0" y2="1"><stop offset="0" stop-color="#823e8e"/><stop offset="0.5" stop-color="#969996"/><stop offset="1" stop-color="#6cb072"/></linearGradient></defs>
<rect x="298.2" y="267.9" width="7.900000000000034" height="37.0" fill="url(#g355)"/>
<line x1="298.2" x2="299.59999999999997" y1="276.3" y2="276.3" stroke="#fff" stroke-width="0.6"/>
<line x1="304.70000000000005" x2="306.1" y1="276.3" y2="276.3" stroke="#fff" stroke-width="0.6"/>
<text x="308.10" y="277.90" font-size="7.5" text-anchor="start" fill="#1a1a1a" stroke="#1a1a1a" stroke-width="0.12"  xml:space="preserve">0.03</text>
<line x1="298.2" x2="299.59999999999997" y1="285.6" y2="285.6" stroke="#fff" stroke-width="0.6"/>
<line x1="304.70000000000005" x2="306.1" y1="285.6" y2="285.6" stroke="#fff" stroke-width="0.6"/>
<text x="308.10" y="287.20" font-size="7.5" text-anchor="start" fill="#1a1a1a" stroke="#1a1a1a" stroke-width="0.12"  xml:space="preserve">0.02</text>
<line x1="298.2" x2="299.59999999999997" y1="295.0" y2="295.0" stroke="#fff" stroke-width="0.6"/>
<line x1="304.70000000000005" x2="306.1" y1="295.0" y2="295.0" stroke="#fff" stroke-width="0.6"/>
<text x="308.10" y="296.60" font-size="7.5" text-anchor="start" fill="#1a1a1a" stroke="#1a1a1a" stroke-width="0.12"  xml:space="preserve">0.01</text>
<text x="298.80" y="318.90" font-size="7.5" text-anchor="start" fill="#1a1a1a" stroke="#1a1a1a" stroke-width="0.12"  xml:space="preserve">abs(cor)</text>
<circle cx="303.2" cy="324.9" r="2.15" fill="#000"/>
<text x="310.30" y="326.70" font-size="7.5" text-anchor="start" fill="#1a1a1a" stroke="#1a1a1a" stroke-width="0.12"  xml:space="preserve">0.3</text>
<circle cx="303.2" cy="332.6" r="2.95" fill="#000"/>
<text x="310.30" y="334.40" font-size="7.5" text-anchor="start" fill="#1a1a1a" stroke="#1a1a1a" stroke-width="0.12"  xml:space="preserve">0.4</text>
<circle cx="303.2" cy="339.7" r="3.45" fill="#000"/>
<text x="310.30" y="341.50" font-size="7.5" text-anchor="start" fill="#1a1a1a" stroke="#1a1a1a" stroke-width="0.12"  xml:space="preserve">0.5</text>
<circle cx="303.2" cy="347.9" r="3.84" fill="#000"/>
<text x="310.30" y="349.70" font-size="7.5" text-anchor="start" fill="#1a1a1a" stroke="#1a1a1a" stroke-width="0.12"  xml:space="preserve">0.6</text>
<circle cx="303.2" cy="357.2" r="4.18" fill="#000"/>
<text x="310.30" y="359.00" font-size="7.5" text-anchor="start" fill="#1a1a1a" stroke="#1a1a1a" stroke-width="0.12"  xml:space="preserve">0.7</text>
</g>
<g>
<line x1="499.45" x2="499.45" y1="224.6" y2="398.6" stroke="#ececec" stroke-width="0.6"/>
<line x1="538.15" x2="538.15" y1="224.6" y2="398.6" stroke="#ececec" stroke-width="0.6"/>
<line x1="576.85" x2="576.85" y1="224.6" y2="398.6" stroke="#ececec" stroke-width="0.6"/>
<line x1="615.55" x2="615.55" y1="224.6" y2="398.6" stroke="#ececec" stroke-width="0.6"/>
<line x1="480.10" x2="480.10" y1="224.6" y2="398.6" stroke="#e6e6e6" stroke-width="1.0"/>
<line x1="518.80" x2="518.80" y1="224.6" y2="398.6" stroke="#e6e6e6" stroke-width="1.0"/>
<line x1="557.50" x2="557.50" y1="224.6" y2="398.6" stroke="#e6e6e6" stroke-width="1.0"/>
<line x1="596.20" x2="596.20" y1="224.6" y2="398.6" stroke="#e6e6e6" stroke-width="1.0"/>
<line x1="634.90" x2="634.90" y1="224.6" y2="398.6" stroke="#e6e6e6" stroke-width="1.0"/>
<line x1="472.6" x2="638.0" y1="229.50" y2="229.50" stroke="#e6e6e6" stroke-width="1.0"/>
<line x1="472.6" x2="638.0" y1="238.15" y2="238.15" stroke="#e6e6e6" stroke-width="1.0"/>
<line x1="472.6" x2="638.0" y1="246.81" y2="246.81" stroke="#e6e6e6" stroke-width="1.0"/>
<line x1="472.6" x2="638.0" y1="255.46" y2="255.46" stroke="#e6e6e6" stroke-width="1.0"/>
<line x1="472.6" x2="638.0" y1="264.11" y2="264.11" stroke="#e6e6e6" stroke-width="1.0"/>
<line x1="472.6" x2="638.0" y1="272.76" y2="272.76" stroke="#e6e6e6" stroke-width="1.0"/>
<line x1="472.6" x2="638.0" y1="281.42" y2="281.42" stroke="#e6e6e6" stroke-width="1.0"/>
<line x1="472.6" x2="638.0" y1="290.07" y2="290.07" stroke="#e6e6e6" stroke-width="1.0"/>
<line x1="472.6" x2="638.0" y1="298.72" y2="298.72" stroke="#e6e6e6" stroke-width="1.0"/>
<line x1="472.6" x2="638.0" y1="307.37" y2="307.37" stroke="#e6e6e6" stroke-width="1.0"/>
<line x1="472.6" x2="638.0" y1="316.03" y2="316.03" stroke="#e6e6e6" stroke-width="1.0"/>
<line x1="472.6" x2="638.0" y1="324.68" y2="324.68" stroke="#e6e6e6" stroke-width="1.0"/>
<line x1="472.6" x2="638.0" y1="333.33" y2="333.33" stroke="#e6e6e6" stroke-width="1.0"/>
<line x1="472.6" x2="638.0" y1="341.98" y2="341.98" stroke="#e6e6e6" stroke-width="1.0"/>
<line x1="472.6" x2="638.0" y1="350.64" y2="350.64" stroke="#e6e6e6" stroke-width="1.0"/>
<line x1="472.6" x2="638.0" y1="359.29" y2="359.29" stroke="#e6e6e6" stroke-width="1.0"/>
<line x1="472.6" x2="638.0" y1="367.94" y2="367.94" stroke="#e6e6e6" stroke-width="1.0"/>
<line x1="472.6" x2="638.0" y1="376.59" y2="376.59" stroke="#e6e6e6" stroke-width="1.0"/>
<line x1="472.6" x2="638.0" y1="385.25" y2="385.25" stroke="#e6e6e6" stroke-width="1.0"/>
<line x1="472.6" x2="638.0" y1="393.90" y2="393.90" stroke="#e6e6e6" stroke-width="1.0"/>
<rect x="472.6" y="224.6" width="165.39999999999998" height="174.00000000000003" fill="none" stroke="#6a6a6a" stroke-width="1.0"/>
<line x1="471.0" x2="472.6" y1="229.50" y2="229.50" stroke="#333" stroke-width="0.8"/>
<line x1="471.0" x2="472.6" y1="238.15" y2="238.15" stroke="#333" stroke-width="0.8"/>
<line x1="471.0" x2="472.6" y1="246.81" y2="246.81" stroke="#333" stroke-width="0.8"/>
<line x1="471.0" x2="472.6" y1="255.46" y2="255.46" stroke="#333" stroke-width="0.8"/>
<line x1="471.0" x2="472.6" y1="264.11" y2="264.11" stroke="#333" stroke-width="0.8"/>
<line x1="471.0" x2="472.6" y1="272.76" y2="272.76" stroke="#333" stroke-width="0.8"/>
<line x1="471.0" x2="472.6" y1="281.42" y2="281.42" stroke="#333" stroke-width="0.8"/>
<line x1="471.0" x2="472.6" y1="290.07" y2="290.07" stroke="#333" stroke-width="0.8"/>
<line x1="471.0" x2="472.6" y1="298.72" y2="298.72" stroke="#333" stroke-width="0.8"/>
<line x1="471.0" x2="472.6" y1="307.37" y2="307.37" stroke="#333" stroke-width="0.8"/>
<line x1="471.0" x2="472.6" y1="316.03" y2="316.03" stroke="#333" stroke-width="0.8"/>
<line x1="471.0" x2="472.6" y1="324.68" y2="324.68" stroke="#333" stroke-width="0.8"/>
<line x1="471.0" x2="472.6" y1="333.33" y2="333.33" stroke="#333" stroke-width="0.8"/>
<line x1="471.0" x2="472.6" y1="341.98" y2="341.98" stroke="#333" stroke-width="0.8"/>
<line x1="471.0" x2="472.6" y1="350.64" y2="350.64" stroke="#333" stroke-width="0.8"/>
<line x1="471.0" x2="472.6" y1="359.29" y2="359.29" stroke="#333" stroke-width="0.8"/>
<line x1="471.0" x2="472.6" y1="367.94" y2="367.94" stroke="#333" stroke-width="0.8"/>
<line x1="471.0" x2="472.6" y1="376.59" y2="376.59" stroke="#333" stroke-width="0.8"/>
<line x1="471.0" x2="472.6" y1="385.25" y2="385.25" stroke="#333" stroke-width="0.8"/>
<line x1="471.0" x2="472.6" y1="393.90" y2="393.90" stroke="#333" stroke-width="0.8"/>
<line x1="480.10" x2="480.10" y1="398.6" y2="400.20000000000005" stroke="#333" stroke-width="0.8"/>
<line x1="518.80" x2="518.80" y1="398.6" y2="400.20000000000005" stroke="#333" stroke-width="0.8"/>
<line x1="557.50" x2="557.50" y1="398.6" y2="400.20000000000005" stroke="#333" stroke-width="0.8"/>
<line x1="596.20" x2="596.20" y1="398.6" y2="400.20000000000005" stroke="#333" stroke-width="0.8"/>
<line x1="634.90" x2="634.90" y1="398.6" y2="400.20000000000005" stroke="#333" stroke-width="0.8"/>
<line x1="480.10" x2="631.22" y1="229.50" y2="229.50" stroke="#050505" stroke-width="1.4"/>
<line x1="480.10" x2="628.71" y1="238.15" y2="238.15" stroke="#050505" stroke-width="1.4"/>
<line x1="480.10" x2="628.71" y1="246.81" y2="246.81" stroke="#050505" stroke-width="1.4"/>
<line x1="480.10" x2="598.33" y1="255.46" y2="255.46" stroke="#050505" stroke-width="1.4"/>
<line x1="480.10" x2="598.33" y1="264.11" y2="264.11" stroke="#050505" stroke-width="1.4"/>
<line x1="480.10" x2="597.17" y1="272.76" y2="272.76" stroke="#050505" stroke-width="1.4"/>
<line x1="480.10" x2="596.78" y1="281.42" y2="281.42" stroke="#050505" stroke-width="1.4"/>
<line x1="480.10" x2="594.26" y1="290.07" y2="290.07" stroke="#050505" stroke-width="1.4"/>
<line x1="480.10" x2="591.75" y1="298.72" y2="298.72" stroke="#050505" stroke-width="1.4"/>
<line x1="480.10" x2="584.78" y1="307.37" y2="307.37" stroke="#050505" stroke-width="1.4"/>
<line x1="480.10" x2="575.11" y1="316.03" y2="316.03" stroke="#050505" stroke-width="1.4"/>
<line x1="480.10" x2="568.53" y1="324.68" y2="324.68" stroke="#050505" stroke-width="1.4"/>
<line x1="480.10" x2="567.95" y1="333.33" y2="333.33" stroke="#050505" stroke-width="1.4"/>
<line x1="480.10" x2="566.21" y1="341.98" y2="341.98" stroke="#050505" stroke-width="1.4"/>
<line x1="480.10" x2="564.85" y1="350.64" y2="350.64" stroke="#050505" stroke-width="1.4"/>
<line x1="480.10" x2="557.89" y1="359.29" y2="359.29" stroke="#050505" stroke-width="1.4"/>
<line x1="480.10" x2="544.73" y1="367.94" y2="367.94" stroke="#050505" stroke-width="1.4"/>
<line x1="480.10" x2="543.18" y1="376.59" y2="376.59" stroke="#050505" stroke-width="1.4"/>
<line x1="480.10" x2="539.89" y1="385.25" y2="385.25" stroke="#050505" stroke-width="1.4"/>
<line x1="480.10" x2="533.51" y1="393.90" y2="393.90" stroke="#050505" stroke-width="1.4"/>
<circle cx="631.22" cy="229.50" r="4.25" fill="#6cb072"/>
<circle cx="628.71" cy="238.15" r="4.21" fill="#6cb072"/>
<circle cx="628.71" cy="246.81" r="4.21" fill="#6cb072"/>
<circle cx="598.33" cy="255.46" r="3.74" fill="#6cb072"/>
<circle cx="598.33" cy="264.11" r="3.74" fill="#6cb072"/>
<circle cx="597.17" cy="272.76" r="3.72" fill="#6cb072"/>
<circle cx="596.78" cy="281.42" r="3.71" fill="#6cb072"/>
<circle cx="594.26" cy="290.07" r="3.67" fill="#6cb072"/>
<circle cx="591.75" cy="298.72" r="3.62" fill="#6cb072"/>
<circle cx="584.78" cy="307.37" r="3.49" fill="#6cb072"/>
<circle cx="575.11" cy="316.03" r="3.29" fill="#6cb072"/>
<circle cx="568.53" cy="324.68" r="3.15" fill="#6cb072"/>
<circle cx="567.95" cy="333.33" r="3.13" fill="#6cb072"/>
<circle cx="566.21" cy="341.98" r="3.09" fill="#6cb072"/>
<circle cx="564.85" cy="350.64" r="3.06" fill="#6cb072"/>
<circle cx="557.89" cy="359.29" r="2.87" fill="#6cb072"/>
<circle cx="544.73" cy="367.94" r="2.43" fill="#85a288"/>
<circle cx="543.18" cy="376.59" r="2.37" fill="#89a08b"/>
<circle cx="539.89" cy="385.25" r="2.20" fill="#928794"/>
<circle cx="533.51" cy="393.90" r="1.50" fill="#823e8e"/>
<text x="467.90" y="230.70" font-size="7.6" text-anchor="end" fill="#4d4d4d" stroke="#4d4d4d" stroke-width="0.12"  xml:space="preserve">Central memory CD8 T cell</text>
<text x="467.90" y="239.35" font-size="7.6" text-anchor="end" fill="#4d4d4d" stroke="#4d4d4d" stroke-width="0.12"  xml:space="preserve">MDSC</text>
<text x="467.90" y="248.01" font-size="7.6" text-anchor="end" fill="#4d4d4d" stroke="#4d4d4d" stroke-width="0.12"  xml:space="preserve">Regulatory T cell</text>
<text x="467.90" y="256.66" font-size="7.6" text-anchor="end" fill="#4d4d4d" stroke="#4d4d4d" stroke-width="0.12"  xml:space="preserve">Type 1 T helper cell</text>
<text x="467.90" y="265.31" font-size="7.6" text-anchor="end" fill="#4d4d4d" stroke="#4d4d4d" stroke-width="0.12"  xml:space="preserve">Activated dendritic cell</text>
<text x="467.90" y="273.96" font-size="7.6" text-anchor="end" fill="#4d4d4d" stroke="#4d4d4d" stroke-width="0.12"  xml:space="preserve">Macrophage</text>
<text x="467.90" y="282.62" font-size="7.6" text-anchor="end" fill="#4d4d4d" stroke="#4d4d4d" stroke-width="0.12"  xml:space="preserve">Plasmacytoid dendritic cell</text>
<text x="467.90" y="291.27" font-size="7.6" text-anchor="end" fill="#4d4d4d" stroke="#4d4d4d" stroke-width="0.12"  xml:space="preserve">Immature  B cell</text>
<text x="467.90" y="299.92" font-size="7.6" text-anchor="end" fill="#4d4d4d" stroke="#4d4d4d" stroke-width="0.12"  xml:space="preserve">Natural killer cell</text>
<text x="467.90" y="308.57" font-size="7.6" text-anchor="end" fill="#e2263c" stroke="#e2263c" stroke-width="0.12"  xml:space="preserve">Neutrophil</text>
<text x="467.90" y="317.23" font-size="7.6" text-anchor="end" fill="#4d4d4d" stroke="#4d4d4d" stroke-width="0.12"  xml:space="preserve">Gamma delta T cell</text>
<text x="467.90" y="325.88" font-size="7.6" text-anchor="end" fill="#4d4d4d" stroke="#4d4d4d" stroke-width="0.12"  xml:space="preserve">Type 17 T helper cell</text>
<text x="467.90" y="334.53" font-size="7.6" text-anchor="end" fill="#4d4d4d" stroke="#4d4d4d" stroke-width="0.12"  xml:space="preserve">Activated CD4 T cell</text>
<text x="467.90" y="343.18" font-size="7.6" text-anchor="end" fill="#4d4d4d" stroke="#4d4d4d" stroke-width="0.12"  xml:space="preserve">T follicular helper cell</text>
<text x="467.90" y="351.84" font-size="7.6" text-anchor="end" fill="#4d4d4d" stroke="#4d4d4d" stroke-width="0.12"  xml:space="preserve">Natural killer T cell</text>
<text x="467.90" y="360.49" font-size="7.6" text-anchor="end" fill="#4d4d4d" stroke="#4d4d4d" stroke-width="0.12"  xml:space="preserve">Effector memeory CD8 T cell</text>
<text x="467.90" y="369.14" font-size="7.6" text-anchor="end" fill="#4d4d4d" stroke="#4d4d4d" stroke-width="0.12"  xml:space="preserve">Immature dendritic cell</text>
<text x="467.90" y="377.79" font-size="7.6" text-anchor="end" fill="#4d4d4d" stroke="#4d4d4d" stroke-width="0.12"  xml:space="preserve">Mast cell</text>
<text x="467.90" y="386.45" font-size="7.6" text-anchor="end" fill="#4d4d4d" stroke="#4d4d4d" stroke-width="0.12"  xml:space="preserve">Eosinophil</text>
<text x="467.90" y="395.10" font-size="7.6" text-anchor="end" fill="#4d4d4d" stroke="#4d4d4d" stroke-width="0.12"  xml:space="preserve">Monocyte</text>
<text x="482.50" y="407.90" font-size="7.4" text-anchor="middle" fill="#4d4d4d" stroke="#4d4d4d" stroke-width="0.12"  xml:space="preserve">0.0</text>
<text x="521.20" y="407.90" font-size="7.4" text-anchor="middle" fill="#4d4d4d" stroke="#4d4d4d" stroke-width="0.12"  xml:space="preserve">0.2</text>
<text x="559.90" y="407.90" font-size="7.4" text-anchor="middle" fill="#4d4d4d" stroke="#4d4d4d" stroke-width="0.12"  xml:space="preserve">0.4</text>
<text x="598.60" y="407.90" font-size="7.4" text-anchor="middle" fill="#4d4d4d" stroke="#4d4d4d" stroke-width="0.12"  xml:space="preserve">0.6</text>
<text x="637.30" y="407.90" font-size="7.4" text-anchor="middle" fill="#4d4d4d" stroke="#4d4d4d" stroke-width="0.12"  xml:space="preserve">0.8</text>
<text x="557.30" y="412.90" font-size="7.8" text-anchor="middle" fill="#1a1a1a" stroke="#1a1a1a" stroke-width="0.12"  xml:space="preserve">cor</text>
<text x="564.90" y="218.90" font-size="7.5" text-anchor="middle" fill="#1a1a1a" stroke="#1a1a1a" stroke-width="0.12"  xml:space="preserve">FCGR3B</text>
<text x="355.80" y="219.80" font-size="17.8" text-anchor="start" fill="#231f20" stroke="#231f20" stroke-width="0.12"  xml:space="preserve">d</text>
<text x="645.20" y="262.10" font-size="7.5" text-anchor="start" fill="#1a1a1a" stroke="#1a1a1a" stroke-width="0.12"  xml:space="preserve">p.value</text>
<defs><linearGradient id="g503" x1="0" y1="0" x2="0" y2="1"><stop offset="0" stop-color="#823e8e"/><stop offset="0.5" stop-color="#969996"/><stop offset="1" stop-color="#6cb072"/></linearGradient></defs>
<rect x="644.9" y="269.0" width="7.899999999999977" height="36.89999999999998" fill="url(#g503)"/>
<line x1="644.9" x2="646.3" y1="270.0" y2="270.0" stroke="#fff" stroke-width="0.6"/>
<line x1="651.4" x2="652.8" y1="270.0" y2="270.0" stroke="#fff" stroke-width="0.6"/>
<text x="655.20" y="271.60" font-size="7.5" text-anchor="start" fill="#1a1a1a" stroke="#1a1a1a" stroke-width="0.12"  xml:space="preserve">0.04</text>
<line x1="644.9" x2="646.3" y1="278.90000000000003" y2="278.90000000000003" stroke="#fff" stroke-width="0.6"/>
<line x1="651.4" x2="652.8" y1="278.90000000000003" y2="278.90000000000003" stroke="#fff" stroke-width="0.6"/>
<text x="655.20" y="280.50" font-size="7.5" text-anchor="start" fill="#1a1a1a" stroke="#1a1a1a" stroke-width="0.12"  xml:space="preserve">0.03</text>
<line x1="644.9" x2="646.3" y1="287.8" y2="287.8" stroke="#fff" stroke-width="0.6"/>
<line x1="651.4" x2="652.8" y1="287.8" y2="287.8" stroke="#fff" stroke-width="0.6"/>
<text x="655.20" y="289.40" font-size="7.5" text-anchor="start" fill="#1a1a1a" stroke="#1a1a1a" stroke-width="0.12"  xml:space="preserve">0.02</text>
<line x1="644.9" x2="646.3" y1="296.7" y2="296.7" stroke="#fff" stroke-width="0.6"/>
<line x1="651.4" x2="652.8" y1="296.7" y2="296.7" stroke="#fff" stroke-width="0.6"/>
<text x="655.20" y="298.30" font-size="7.5" text-anchor="start" fill="#1a1a1a" stroke="#1a1a1a" stroke-width="0.12"  xml:space="preserve">0.01</text>
<text x="645.20" y="319.50" font-size="7.5" text-anchor="start" fill="#1a1a1a" stroke="#1a1a1a" stroke-width="0.12"  xml:space="preserve">abs(cor)</text>
<circle cx="649.6" cy="326.4" r="2.10" fill="#000"/>
<text x="656.80" y="328.20" font-size="7.5" text-anchor="start" fill="#1a1a1a" stroke="#1a1a1a" stroke-width="0.12"  xml:space="preserve">0.3</text>
<circle cx="649.6" cy="333.5" r="2.86" fill="#000"/>
<text x="656.80" y="335.30" font-size="7.5" text-anchor="start" fill="#1a1a1a" stroke="#1a1a1a" stroke-width="0.12"  xml:space="preserve">0.4</text>
<circle cx="649.6" cy="340.5" r="3.33" fill="#000"/>
<text x="656.80" y="342.30" font-size="7.5" text-anchor="start" fill="#1a1a1a" stroke="#1a1a1a" stroke-width="0.12"  xml:space="preserve">0.5</text>
<circle cx="649.6" cy="348.2" r="3.70" fill="#000"/>
<text x="656.80" y="350.00" font-size="7.5" text-anchor="start" fill="#1a1a1a" stroke="#1a1a1a" stroke-width="0.12"  xml:space="preserve">0.6</text>
<circle cx="649.6" cy="356.8" r="4.02" fill="#000"/>
<text x="656.80" y="358.60" font-size="7.5" text-anchor="start" fill="#1a1a1a" stroke="#1a1a1a" stroke-width="0.12"  xml:space="preserve">0.7</text>
</g>
<g>
<line x1="153.60" x2="153.60" y1="429.1" y2="606.3" stroke="#ececec" stroke-width="0.6"/>
<line x1="197.60" x2="197.60" y1="429.1" y2="606.3" stroke="#ececec" stroke-width="0.6"/>
<line x1="241.60" x2="241.60" y1="429.1" y2="606.3" stroke="#ececec" stroke-width="0.6"/>
<line x1="285.60" x2="285.60" y1="429.1" y2="606.3" stroke="#ececec" stroke-width="0.6"/>
<line x1="131.60" x2="131.60" y1="429.1" y2="606.3" stroke="#e6e6e6" stroke-width="1.0"/>
<line x1="175.60" x2="175.60" y1="429.1" y2="606.3" stroke="#e6e6e6" stroke-width="1.0"/>
<line x1="219.60" x2="219.60" y1="429.1" y2="606.3" stroke="#e6e6e6" stroke-width="1.0"/>
<line x1="263.60" x2="263.60" y1="429.1" y2="606.3" stroke="#e6e6e6" stroke-width="1.0"/>
<line x1="124.5" x2="292.5" y1="434.70" y2="434.70" stroke="#e6e6e6" stroke-width="1.0"/>
<line x1="124.5" x2="292.5" y1="444.47" y2="444.47" stroke="#e6e6e6" stroke-width="1.0"/>
<line x1="124.5" x2="292.5" y1="454.24" y2="454.24" stroke="#e6e6e6" stroke-width="1.0"/>
<line x1="124.5" x2="292.5" y1="464.01" y2="464.01" stroke="#e6e6e6" stroke-width="1.0"/>
<line x1="124.5" x2="292.5" y1="473.78" y2="473.78" stroke="#e6e6e6" stroke-width="1.0"/>
<line x1="124.5" x2="292.5" y1="483.55" y2="483.55" stroke="#e6e6e6" stroke-width="1.0"/>
<line x1="124.5" x2="292.5" y1="493.32" y2="493.32" stroke="#e6e6e6" stroke-width="1.0"/>
<line x1="124.5" x2="292.5" y1="503.09" y2="503.09" stroke="#e6e6e6" stroke-width="1.0"/>
<line x1="124.5" x2="292.5" y1="512.86" y2="512.86" stroke="#e6e6e6" stroke-width="1.0"/>
<line x1="124.5" x2="292.5" y1="522.64" y2="522.64" stroke="#e6e6e6" stroke-width="1.0"/>
<line x1="124.5" x2="292.5" y1="532.41" y2="532.41" stroke="#e6e6e6" stroke-width="1.0"/>
<line x1="124.5" x2="292.5" y1="542.18" y2="542.18" stroke="#e6e6e6" stroke-width="1.0"/>
<line x1="124.5" x2="292.5" y1="551.95" y2="551.95" stroke="#e6e6e6" stroke-width="1.0"/>
<line x1="124.5" x2="292.5" y1="561.72" y2="561.72" stroke="#e6e6e6" stroke-width="1.0"/>
<line x1="124.5" x2="292.5" y1="571.49" y2="571.49" stroke="#e6e6e6" stroke-width="1.0"/>
<line x1="124.5" x2="292.5" y1="581.26" y2="581.26" stroke="#e6e6e6" stroke-width="1.0"/>
<line x1="124.5" x2="292.5" y1="591.03" y2="591.03" stroke="#e6e6e6" stroke-width="1.0"/>
<line x1="124.5" x2="292.5" y1="600.80" y2="600.80" stroke="#e6e6e6" stroke-width="1.0"/>
<rect x="124.5" y="429.1" width="168.0" height="177.19999999999993" fill="none" stroke="#6a6a6a" stroke-width="1.0"/>
<line x1="122.9" x2="124.5" y1="434.70" y2="434.70" stroke="#333" stroke-width="0.8"/>
<line x1="122.9" x2="124.5" y1="444.47" y2="444.47" stroke="#333" stroke-width="0.8"/>
<line x1="122.9" x2="124.5" y1="454.24" y2="454.24" stroke="#333" stroke-width="0.8"/>
<line x1="122.9" x2="124.5" y1="464.01" y2="464.01" stroke="#333" stroke-width="0.8"/>
<line x1="122.9" x2="124.5" y1="473.78" y2="473.78" stroke="#333" stroke-width="0.8"/>
<line x1="122.9" x2="124.5" y1="483.55" y2="483.55" stroke="#333" stroke-width="0.8"/>
<line x1="122.9" x2="124.5" y1="493.32" y2="493.32" stroke="#333" stroke-width="0.8"/>
<line x1="122.9" x2="124.5" y1="503.09" y2="503.09" stroke="#333" stroke-width="0.8"/>
<line x1="122.9" x2="124.5" y1="512.86" y2="512.86" stroke="#333" stroke-width="0.8"/>
<line x1="122.9" x2="124.5" y1="522.64" y2="522.64" stroke="#333" stroke-width="0.8"/>
<line x1="122.9" x2="124.5" y1="532.41" y2="532.41" stroke="#333" stroke-width="0.8"/>
<line x1="122.9" x2="124.5" y1="542.18" y2="542.18" stroke="#333" stroke-width="0.8"/>
<line x1="122.9" x2="124.5" y1="551.95" y2="551.95" stroke="#333" stroke-width="0.8"/>
<line x1="122.9" x2="124.5" y1="561.72" y2="561.72" stroke="#333" stroke-width="0.8"/>
<line x1="122.9" x2="124.5" y1="571.49" y2="571.49" stroke="#333" stroke-width="0.8"/>
<line x1="122.9" x2="124.5" y1="581.26" y2="581.26" stroke="#333" stroke-width="0.8"/>
<line x1="122.9" x2="124.5" y1="591.03" y2="591.03" stroke="#333" stroke-width="0.8"/>
<line x1="122.9" x2="124.5" y1="600.80" y2="600.80" stroke="#333" stroke-width="0.8"/>
<line x1="131.60" x2="131.60" y1="606.3" y2="607.9" stroke="#333" stroke-width="0.8"/>
<line x1="175.60" x2="175.60" y1="606.3" y2="607.9" stroke="#333" stroke-width="0.8"/>
<line x1="219.60" x2="219.60" y1="606.3" y2="607.9" stroke="#333" stroke-width="0.8"/>
<line x1="263.60" x2="263.60" y1="606.3" y2="607.9" stroke="#333" stroke-width="0.8"/>
<line x1="131.60" x2="284.72" y1="434.70" y2="434.70" stroke="#050505" stroke-width="1.4"/>
<line x1="131.60" x2="280.32" y1="444.47" y2="444.47" stroke="#050505" stroke-width="1.4"/>
<line x1="131.60" x2="279.88" y1="454.24" y2="454.24" stroke="#050505" stroke-width="1.4"/>
<line x1="131.60" x2="267.12" y1="464.01" y2="464.01" stroke="#050505" stroke-width="1.4"/>
<line x1="131.60" x2="260.74" y1="473.78" y2="473.78" stroke="#050505" stroke-width="1.4"/>
<line x1="131.60" x2="260.74" y1="483.55" y2="483.55" stroke="#050505" stroke-width="1.4"/>
<line x1="131.60" x2="246.88" y1="493.32" y2="493.32" stroke="#050505" stroke-width="1.4"/>
<line x1="131.60" x2="239.84" y1="503.09" y2="503.09" stroke="#050505" stroke-width="1.4"/>
<line x1="131.60" x2="238.30" y1="512.86" y2="512.86" stroke="#050505" stroke-width="1.4"/>
<line x1="131.60" x2="237.64" y1="522.64" y2="522.64" stroke="#050505" stroke-width="1.4"/>
<line x1="131.60" x2="225.54" y1="532.41" y2="532.41" stroke="#050505" stroke-width="1.4"/>
<line x1="131.60" x2="223.78" y1="542.18" y2="542.18" stroke="#050505" stroke-width="1.4"/>
<line x1="131.60" x2="216.74" y1="551.95" y2="551.95" stroke="#050505" stroke-width="1.4"/>
<line x1="131.60" x2="216.08" y1="561.72" y2="561.72" stroke="#050505" stroke-width="1.4"/>
<line x1="131.60" x2="214.54" y1="571.49" y2="571.49" stroke="#050505" stroke-width="1.4"/>
<line x1="131.60" x2="201.56" y1="581.26" y2="581.26" stroke="#050505" stroke-width="1.4"/>
<line x1="131.60" x2="195.84" y1="591.03" y2="591.03" stroke="#050505" stroke-width="1.4"/>
<line x1="131.60" x2="193.86" y1="600.80" y2="600.80" stroke="#050505" stroke-width="1.4"/>
<circle cx="284.72" cy="434.70" r="4.25" fill="#6cb072"/>
<circle cx="280.32" cy="444.47" r="4.19" fill="#6cb072"/>
<circle cx="279.88" cy="454.24" r="4.18" fill="#6cb072"/>
<circle cx="267.12" cy="464.01" r="3.99" fill="#6cb072"/>
<circle cx="260.74" cy="473.78" r="3.89" fill="#6cb072"/>
<circle cx="260.74" cy="483.55" r="3.89" fill="#6cb072"/>
<circle cx="246.88" cy="493.32" r="3.65" fill="#6cb072"/>
<circle cx="239.84" cy="503.09" r="3.51" fill="#6cb072"/>
<circle cx="238.30" cy="512.86" r="3.48" fill="#6cb072"/>
<circle cx="237.64" cy="522.64" r="3.47" fill="#6cb072"/>
<circle cx="225.54" cy="532.41" r="3.21" fill="#6cb072"/>
<circle cx="223.78" cy="542.18" r="3.16" fill="#6cb072"/>
<circle cx="216.74" cy="551.95" r="2.98" fill="#6cb072"/>
<circle cx="216.08" cy="561.72" r="2.96" fill="#6cb072"/>
<circle cx="214.54" cy="571.49" r="2.92" fill="#6cb072"/>
<circle cx="201.56" cy="581.26" r="2.44" fill="#969996"/>
<circle cx="195.84" cy="591.03" r="2.08" fill="#865090"/>
<circle cx="193.86" cy="600.80" r="1.70" fill="#84478f"/>
<text x="120.10" y="436.10" font-size="7.6" text-anchor="end" fill="#4d4d4d" stroke="#4d4d4d" stroke-width="0.12"  xml:space="preserve">MDSC</text>
<text x="120.10" y="445.87" font-size="7.6" text-anchor="end" fill="#4d4d4d" stroke="#4d4d4d" stroke-width="0.12"  xml:space="preserve">Regulatory T cell</text>
<text x="120.10" y="455.64" font-size="7.6" text-anchor="end" fill="#4d4d4d" stroke="#4d4d4d" stroke-width="0.12"  xml:space="preserve">Central memory CD8 T cell</text>
<text x="120.10" y="465.41" font-size="7.6" text-anchor="end" fill="#4d4d4d" stroke="#4d4d4d" stroke-width="0.12"  xml:space="preserve">Macrophage</text>
<text x="120.10" y="475.18" font-size="7.6" text-anchor="end" fill="#4d4d4d" stroke="#4d4d4d" stroke-width="0.12"  xml:space="preserve">Type 1 T helper cell</text>
<text x="120.10" y="484.95" font-size="7.6" text-anchor="end" fill="#4d4d4d" stroke="#4d4d4d" stroke-width="0.12"  xml:space="preserve">Activated CD4 T cell</text>
<text x="120.10" y="494.72" font-size="7.6" text-anchor="end" fill="#4d4d4d" stroke="#4d4d4d" stroke-width="0.12"  xml:space="preserve">Natural killer T cell</text>
<text x="120.10" y="504.49" font-size="7.6" text-anchor="end" fill="#4d4d4d" stroke="#4d4d4d" stroke-width="0.12"  xml:space="preserve">Plasmacytoid dendritic cell</text>
<text x="120.10" y="514.26" font-size="7.6" text-anchor="end" fill="#4d4d4d" stroke="#4d4d4d" stroke-width="0.12"  xml:space="preserve">Activated dendritic cell</text>
<text x="120.10" y="524.04" font-size="7.6" text-anchor="end" fill="#4d4d4d" stroke="#4d4d4d" stroke-width="0.12"  xml:space="preserve">Immature  B cell</text>
<text x="120.10" y="533.81" font-size="7.6" text-anchor="end" fill="#4d4d4d" stroke="#4d4d4d" stroke-width="0.12"  xml:space="preserve">Eosinophil</text>
<text x="120.10" y="543.58" font-size="7.6" text-anchor="end" fill="#4d4d4d" stroke="#4d4d4d" stroke-width="0.12"  xml:space="preserve">Mast cell</text>
<text x="120.10" y="553.35" font-size="7.6" text-anchor="end" fill="#e2263c" stroke="#e2263c" stroke-width="0.12"  xml:space="preserve">Neutrophil</text>
<text x="120.10" y="563.12" font-size="7.6" text-anchor="end" fill="#4d4d4d" stroke="#4d4d4d" stroke-width="0.12"  xml:space="preserve">T follicular helper cell</text>
<text x="120.10" y="572.89" font-size="7.6" text-anchor="end" fill="#4d4d4d" stroke="#4d4d4d" stroke-width="0.12"  xml:space="preserve">Gamma delta T cell</text>
<text x="120.10" y="582.66" font-size="7.6" text-anchor="end" fill="#4d4d4d" stroke="#4d4d4d" stroke-width="0.12"  xml:space="preserve">Immature dendritic cell</text>
<text x="120.10" y="592.43" font-size="7.6" text-anchor="end" fill="#4d4d4d" stroke="#4d4d4d" stroke-width="0.12"  xml:space="preserve">Effector memeory CD8 T cell</text>
<text x="120.10" y="602.20" font-size="7.6" text-anchor="end" fill="#4d4d4d" stroke="#4d4d4d" stroke-width="0.12"  xml:space="preserve">Type 17 T helper cell</text>
<text x="134.20" y="618.40" font-size="7.4" text-anchor="middle" fill="#4d4d4d" stroke="#4d4d4d" stroke-width="0.12"  xml:space="preserve">0.0</text>
<text x="178.20" y="618.40" font-size="7.4" text-anchor="middle" fill="#4d4d4d" stroke="#4d4d4d" stroke-width="0.12"  xml:space="preserve">0.2</text>
<text x="222.20" y="618.40" font-size="7.4" text-anchor="middle" fill="#4d4d4d" stroke="#4d4d4d" stroke-width="0.12"  xml:space="preserve">0.4</text>
<text x="266.20" y="618.40" font-size="7.4" text-anchor="middle" fill="#4d4d4d" stroke="#4d4d4d" stroke-width="0.12"  xml:space="preserve">0.6</text>
<text x="210.10" y="623.10" font-size="7.8" text-anchor="middle" fill="#1a1a1a" stroke="#1a1a1a" stroke-width="0.12"  xml:space="preserve">cor</text>
<text x="202.00" y="424.10" font-size="7.4" text-anchor="middle" fill="#1a1a1a" stroke="#1a1a1a" stroke-width="0.12"  xml:space="preserve">FPR1</text>
<text x="2.90" y="430.80" font-size="17.8" text-anchor="start" fill="#231f20" stroke="#231f20" stroke-width="0.12"  xml:space="preserve">e</text>
<text x="300.20" y="474.20" font-size="7.5" text-anchor="start" fill="#1a1a1a" stroke="#1a1a1a" stroke-width="0.12"  xml:space="preserve">p.value</text>
<defs><linearGradient id="g641" x1="0" y1="0" x2="0" y2="1"><stop offset="0" stop-color="#823e8e"/><stop offset="0.5" stop-color="#969996"/><stop offset="1" stop-color="#6cb072"/></linearGradient></defs>
<rect x="300.0" y="478.1" width="7.800000000000011" height="37.69999999999993" fill="url(#g641)"/>
<line x1="300.0" x2="301.4" y1="482.8" y2="482.8" stroke="#fff" stroke-width="0.6"/>
<line x1="306.40000000000003" x2="307.8" y1="482.8" y2="482.8" stroke="#fff" stroke-width="0.6"/>
<text x="310.10" y="484.40" font-size="7.5" text-anchor="start" fill="#1a1a1a" stroke="#1a1a1a" stroke-width="0.12"  xml:space="preserve">0.03</text>
<line x1="300.0" x2="301.4" y1="493.8" y2="493.8" stroke="#fff" stroke-width="0.6"/>
<line x1="306.40000000000003" x2="307.8" y1="493.8" y2="493.8" stroke="#fff" stroke-width="0.6"/>
<text x="310.10" y="495.40" font-size="7.5" text-anchor="start" fill="#1a1a1a" stroke="#1a1a1a" stroke-width="0.12"  xml:space="preserve">0.02</text>
<line x1="300.0" x2="301.4" y1="504.6" y2="504.6" stroke="#fff" stroke-width="0.6"/>
<line x1="306.40000000000003" x2="307.8" y1="504.6" y2="504.6" stroke="#fff" stroke-width="0.6"/>
<text x="310.10" y="506.20" font-size="7.5" text-anchor="start" fill="#1a1a1a" stroke="#1a1a1a" stroke-width="0.12"  xml:space="preserve">0.01</text>
<text x="300.20" y="529.70" font-size="7.5" text-anchor="start" fill="#1a1a1a" stroke="#1a1a1a" stroke-width="0.12"  xml:space="preserve">abs(cor)</text>
<circle cx="304.7" cy="536.6" r="2.22" fill="#000"/>
<text x="311.80" y="538.40" font-size="7.5" text-anchor="start" fill="#1a1a1a" stroke="#1a1a1a" stroke-width="0.12"  xml:space="preserve">0.3</text>
<circle cx="304.7" cy="543.9" r="3.06" fill="#000"/>
<text x="311.80" y="545.70" font-size="7.5" text-anchor="start" fill="#1a1a1a" stroke="#1a1a1a" stroke-width="0.12"  xml:space="preserve">0.4</text>
<circle cx="304.7" cy="551.5" r="3.55" fill="#000"/>
<text x="311.80" y="553.30" font-size="7.5" text-anchor="start" fill="#1a1a1a" stroke="#1a1a1a" stroke-width="0.12"  xml:space="preserve">0.5</text>
<circle cx="304.7" cy="560.1" r="3.93" fill="#000"/>
<text x="311.80" y="561.90" font-size="7.5" text-anchor="start" fill="#1a1a1a" stroke="#1a1a1a" stroke-width="0.12"  xml:space="preserve">0.6</text>
</g>
<g>
<line x1="492.30" x2="492.30" y1="433.5" y2="610.6" stroke="#ececec" stroke-width="0.6"/>
<line x1="545.90" x2="545.90" y1="433.5" y2="610.6" stroke="#ececec" stroke-width="0.6"/>
<line x1="599.50" x2="599.50" y1="433.5" y2="610.6" stroke="#ececec" stroke-width="0.6"/>
<line x1="465.50" x2="465.50" y1="433.5" y2="610.6" stroke="#e6e6e6" stroke-width="1.0"/>
<line x1="519.10" x2="519.10" y1="433.5" y2="610.6" stroke="#e6e6e6" stroke-width="1.0"/>
<line x1="572.70" x2="572.70" y1="433.5" y2="610.6" stroke="#e6e6e6" stroke-width="1.0"/>
<line x1="626.30" x2="626.30" y1="433.5" y2="610.6" stroke="#e6e6e6" stroke-width="1.0"/>
<line x1="457.5" x2="647.3" y1="466.20" y2="466.20" stroke="#e6e6e6" stroke-width="1.0"/>
<line x1="457.5" x2="647.3" y1="521.90" y2="521.90" stroke="#e6e6e6" stroke-width="1.0"/>
<line x1="457.5" x2="647.3" y1="577.60" y2="577.60" stroke="#e6e6e6" stroke-width="1.0"/>
<rect x="457.5" y="433.5" width="189.79999999999995" height="177.10000000000002" fill="none" stroke="#333" stroke-width="1.0"/>
<line x1="455.5" x2="457.5" y1="466.20" y2="466.20" stroke="#333" stroke-width="0.8"/>
<line x1="455.5" x2="457.5" y1="521.90" y2="521.90" stroke="#333" stroke-width="0.8"/>
<line x1="455.5" x2="457.5" y1="577.60" y2="577.60" stroke="#333" stroke-width="0.8"/>
<line x1="465.50" x2="465.50" y1="610.6" y2="615.3000000000001" stroke="#333" stroke-width="0.8"/>
<line x1="519.10" x2="519.10" y1="610.6" y2="615.3000000000001" stroke="#333" stroke-width="0.8"/>
<line x1="572.70" x2="572.70" y1="610.6" y2="615.3000000000001" stroke="#333" stroke-width="0.8"/>
<line x1="626.30" x2="626.30" y1="610.6" y2="615.3000000000001" stroke="#333" stroke-width="0.8"/>
<line x1="465.50" x2="638.63" y1="466.20" y2="466.20" stroke="#050505" stroke-width="1.4"/>
<line x1="465.50" x2="617.51" y1="521.90" y2="521.90" stroke="#050505" stroke-width="1.4"/>
<line x1="465.50" x2="615.90" y1="577.60" y2="577.60" stroke="#050505" stroke-width="1.4"/>
<circle cx="638.63" cy="466.20" r="4.35" fill="#6cb072"/>
<circle cx="617.51" cy="521.90" r="2.40" fill="#823e8e"/>
<circle cx="615.90" cy="577.60" r="1.70" fill="#823e8e"/>
<text x="456.30" y="467.90" font-size="7.65" text-anchor="end" fill="#e2263c" stroke="#e2263c" stroke-width="0.12"  xml:space="preserve">Neutrophil</text>
<text x="456.30" y="523.60" font-size="7.65" text-anchor="end" fill="#4d4d4d" stroke="#4d4d4d" stroke-width="0.12"  xml:space="preserve">Activated B cell</text>
<text x="456.30" y="579.30" font-size="7.65" text-anchor="end" fill="#4d4d4d" stroke="#4d4d4d" stroke-width="0.12"  xml:space="preserve">MDSC</text>
<text x="468.20" y="622.30" font-size="7.4" text-anchor="middle" fill="#4d4d4d" stroke="#4d4d4d" stroke-width="0.12"  xml:space="preserve">0.0</text>
<text x="521.80" y="622.30" font-size="7.4" text-anchor="middle" fill="#4d4d4d" stroke="#4d4d4d" stroke-width="0.12"  xml:space="preserve">0.1</text>
<text x="575.40" y="622.30" font-size="7.4" text-anchor="middle" fill="#4d4d4d" stroke="#4d4d4d" stroke-width="0.12"  xml:space="preserve">0.2</text>
<text x="629.00" y="622.30" font-size="7.4" text-anchor="middle" fill="#4d4d4d" stroke="#4d4d4d" stroke-width="0.12"  xml:space="preserve">0.3</text>
<text x="554.50" y="627.60" font-size="7.8" text-anchor="middle" fill="#1a1a1a" stroke="#1a1a1a" stroke-width="0.12"  xml:space="preserve">cor</text>
<text x="560.10" y="428.50" font-size="7.5" text-anchor="middle" fill="#1a1a1a" stroke="#1a1a1a" stroke-width="0.12"  xml:space="preserve">MMP9</text>
<text x="359.60" y="437.50" font-size="17.8" text-anchor="start" fill="#231f20" stroke="#231f20" stroke-width="0.12"  xml:space="preserve">f</text>
<text x="654.90" y="477.80" font-size="7.4" text-anchor="start" fill="#1a1a1a" stroke="#1a1a1a" stroke-width="0.12"  xml:space="preserve">p.value</text>
<defs><linearGradient id="g698" x1="0" y1="0" x2="0" y2="1"><stop offset="0" stop-color="#823e8e"/><stop offset="0.5" stop-color="#969996"/><stop offset="1" stop-color="#6cb072"/></linearGradient></defs>
<rect x="654.9" y="481.8" width="7.300000000000068" height="37.69999999999999" fill="url(#g698)"/>
<line x1="654.9" x2="656.3" y1="483.8" y2="483.8" stroke="#fff" stroke-width="0.6"/>
<line x1="660.8000000000001" x2="662.2" y1="483.8" y2="483.8" stroke="#fff" stroke-width="0.6"/>
<text x="664.90" y="485.36" font-size="7.4" text-anchor="start" fill="#1a1a1a" stroke="#1a1a1a" stroke-width="0.12"  xml:space="preserve">0.035</text>
<line x1="654.9" x2="656.3" y1="492.5" y2="492.5" stroke="#fff" stroke-width="0.6"/>
<line x1="660.8000000000001" x2="662.2" y1="492.5" y2="492.5" stroke="#fff" stroke-width="0.6"/>
<text x="664.90" y="494.06" font-size="7.4" text-anchor="start" fill="#1a1a1a" stroke="#1a1a1a" stroke-width="0.12"  xml:space="preserve">0.030</text>
<line x1="654.9" x2="656.3" y1="501.2" y2="501.2" stroke="#fff" stroke-width="0.6"/>
<line x1="660.8000000000001" x2="662.2" y1="501.2" y2="501.2" stroke="#fff" stroke-width="0.6"/>
<text x="664.90" y="502.76" font-size="7.4" text-anchor="start" fill="#1a1a1a" stroke="#1a1a1a" stroke-width="0.12"  xml:space="preserve">0.025</text>
<line x1="654.9" x2="656.3" y1="510.1" y2="510.1" stroke="#fff" stroke-width="0.6"/>
<line x1="660.8000000000001" x2="662.2" y1="510.1" y2="510.1" stroke="#fff" stroke-width="0.6"/>
<text x="664.90" y="511.66" font-size="7.4" text-anchor="start" fill="#1a1a1a" stroke="#1a1a1a" stroke-width="0.12"  xml:space="preserve">0.020</text>
<text x="654.90" y="533.60" font-size="7.4" text-anchor="start" fill="#1a1a1a" stroke="#1a1a1a" stroke-width="0.12"  xml:space="preserve">abs(cor)</text>
<circle cx="659.4" cy="540.0" r="2.95" fill="#000"/>
<text x="667.00" y="541.76" font-size="7.4" text-anchor="start" fill="#1a1a1a" stroke="#1a1a1a" stroke-width="0.12"  xml:space="preserve">0.29</text>
<circle cx="659.4" cy="547.3" r="3.49" fill="#000"/>
<text x="667.00" y="549.06" font-size="7.4" text-anchor="start" fill="#1a1a1a" stroke="#1a1a1a" stroke-width="0.12"  xml:space="preserve">0.30</text>
<circle cx="659.4" cy="554.9" r="3.91" fill="#000"/>
<text x="667.00" y="556.66" font-size="7.4" text-anchor="start" fill="#1a1a1a" stroke="#1a1a1a" stroke-width="0.12"  xml:space="preserve">0.31</text>
<circle cx="659.4" cy="563.8" r="4.25" fill="#000"/>
<text x="667.00" y="565.56" font-size="7.4" text-anchor="start" fill="#1a1a1a" stroke="#1a1a1a" stroke-width="0.12"  xml:space="preserve">0.32</text>
</g>
<g>
<line x1="157.15" x2="157.15" y1="640.5" y2="814.6" stroke="#ececec" stroke-width="0.6"/>
<line x1="210.45" x2="210.45" y1="640.5" y2="814.6" stroke="#ececec" stroke-width="0.6"/>
<line x1="263.75" x2="263.75" y1="640.5" y2="814.6" stroke="#ececec" stroke-width="0.6"/>
<line x1="130.50" x2="130.50" y1="640.5" y2="814.6" stroke="#e6e6e6" stroke-width="1.0"/>
<line x1="183.80" x2="183.80" y1="640.5" y2="814.6" stroke="#e6e6e6" stroke-width="1.0"/>
<line x1="237.10" x2="237.10" y1="640.5" y2="814.6" stroke="#e6e6e6" stroke-width="1.0"/>
<line x1="123.3" x2="288.4" y1="646.70" y2="646.70" stroke="#e6e6e6" stroke-width="1.0"/>
<line x1="123.3" x2="288.4" y1="658.21" y2="658.21" stroke="#e6e6e6" stroke-width="1.0"/>
<line x1="123.3" x2="288.4" y1="669.71" y2="669.71" stroke="#e6e6e6" stroke-width="1.0"/>
<line x1="123.3" x2="288.4" y1="681.22" y2="681.22" stroke="#e6e6e6" stroke-width="1.0"/>
<line x1="123.3" x2="288.4" y1="692.73" y2="692.73" stroke="#e6e6e6" stroke-width="1.0"/>
<line x1="123.3" x2="288.4" y1="704.24" y2="704.24" stroke="#e6e6e6" stroke-width="1.0"/>
<line x1="123.3" x2="288.4" y1="715.74" y2="715.74" stroke="#e6e6e6" stroke-width="1.0"/>
<line x1="123.3" x2="288.4" y1="727.25" y2="727.25" stroke="#e6e6e6" stroke-width="1.0"/>
<line x1="123.3" x2="288.4" y1="738.76" y2="738.76" stroke="#e6e6e6" stroke-width="1.0"/>
<line x1="123.3" x2="288.4" y1="750.26" y2="750.26" stroke="#e6e6e6" stroke-width="1.0"/>
<line x1="123.3" x2="288.4" y1="761.77" y2="761.77" stroke="#e6e6e6" stroke-width="1.0"/>
<line x1="123.3" x2="288.4" y1="773.28" y2="773.28" stroke="#e6e6e6" stroke-width="1.0"/>
<line x1="123.3" x2="288.4" y1="784.79" y2="784.79" stroke="#e6e6e6" stroke-width="1.0"/>
<line x1="123.3" x2="288.4" y1="796.29" y2="796.29" stroke="#e6e6e6" stroke-width="1.0"/>
<line x1="123.3" x2="288.4" y1="807.80" y2="807.80" stroke="#e6e6e6" stroke-width="1.0"/>
<rect x="123.3" y="640.5" width="165.09999999999997" height="174.10000000000002" fill="none" stroke="#6a6a6a" stroke-width="1.0"/>
<line x1="121.7" x2="123.3" y1="646.70" y2="646.70" stroke="#333" stroke-width="0.8"/>
<line x1="121.7" x2="123.3" y1="658.21" y2="658.21" stroke="#333" stroke-width="0.8"/>
<line x1="121.7" x2="123.3" y1="669.71" y2="669.71" stroke="#333" stroke-width="0.8"/>
<line x1="121.7" x2="123.3" y1="681.22" y2="681.22" stroke="#333" stroke-width="0.8"/>
<line x1="121.7" x2="123.3" y1="692.73" y2="692.73" stroke="#333" stroke-width="0.8"/>
<line x1="121.7" x2="123.3" y1="704.24" y2="704.24" stroke="#333" stroke-width="0.8"/>
<line x1="121.7" x2="123.3" y1="715.74" y2="715.74" stroke="#333" stroke-width="0.8"/>
<line x1="121.7" x2="123.3" y1="727.25" y2="727.25" stroke="#333" stroke-width="0.8"/>
<line x1="121.7" x2="123.3" y1="738.76" y2="738.76" stroke="#333" stroke-width="0.8"/>
<line x1="121.7" x2="123.3" y1="750.26" y2="750.26" stroke="#333" stroke-width="0.8"/>
<line x1="121.7" x2="123.3" y1="761.77" y2="761.77" stroke="#333" stroke-width="0.8"/>
<line x1="121.7" x2="123.3" y1="773.28" y2="773.28" stroke="#333" stroke-width="0.8"/>
<line x1="121.7" x2="123.3" y1="784.79" y2="784.79" stroke="#333" stroke-width="0.8"/>
<line x1="121.7" x2="123.3" y1="796.29" y2="796.29" stroke="#333" stroke-width="0.8"/>
<line x1="121.7" x2="123.3" y1="807.80" y2="807.80" stroke="#333" stroke-width="0.8"/>
<line x1="130.50" x2="130.50" y1="814.6" y2="816.2" stroke="#333" stroke-width="0.8"/>
<line x1="183.80" x2="183.80" y1="814.6" y2="816.2" stroke="#333" stroke-width="0.8"/>
<line x1="237.10" x2="237.10" y1="814.6" y2="816.2" stroke="#333" stroke-width="0.8"/>
<line x1="130.50" x2="280.54" y1="646.70" y2="646.70" stroke="#050505" stroke-width="1.4"/>
<line x1="130.50" x2="263.48" y1="658.21" y2="658.21" stroke="#050505" stroke-width="1.4"/>
<line x1="130.50" x2="256.55" y1="669.71" y2="669.71" stroke="#050505" stroke-width="1.4"/>
<line x1="130.50" x2="250.16" y1="681.22" y2="681.22" stroke="#050505" stroke-width="1.4"/>
<line x1="130.50" x2="248.03" y1="692.73" y2="692.73" stroke="#050505" stroke-width="1.4"/>
<line x1="130.50" x2="245.09" y1="704.24" y2="704.24" stroke="#050505" stroke-width="1.4"/>
<line x1="130.50" x2="244.56" y1="715.74" y2="715.74" stroke="#050505" stroke-width="1.4"/>
<line x1="130.50" x2="240.56" y1="727.25" y2="727.25" stroke="#050505" stroke-width="1.4"/>
<line x1="130.50" x2="224.31" y1="738.76" y2="738.76" stroke="#050505" stroke-width="1.4"/>
<line x1="130.50" x2="222.98" y1="750.26" y2="750.26" stroke="#050505" stroke-width="1.4"/>
<line x1="130.50" x2="218.71" y1="761.77" y2="761.77" stroke="#050505" stroke-width="1.4"/>
<line x1="130.50" x2="213.65" y1="773.28" y2="773.28" stroke="#050505" stroke-width="1.4"/>
<line x1="130.50" x2="205.12" y1="784.79" y2="784.79" stroke="#050505" stroke-width="1.4"/>
<line x1="130.50" x2="204.85" y1="796.29" y2="796.29" stroke="#050505" stroke-width="1.4"/>
<line x1="130.50" x2="201.92" y1="807.80" y2="807.80" stroke="#050505" stroke-width="1.4"/>
<circle cx="280.54" cy="646.70" r="4.25" fill="#6cb072"/>
<circle cx="263.48" cy="658.21" r="3.94" fill="#6cb072"/>
<circle cx="256.55" cy="669.71" r="3.81" fill="#6cb072"/>
<circle cx="250.16" cy="681.22" r="3.68" fill="#6cb072"/>
<circle cx="248.03" cy="692.73" r="3.63" fill="#6cb072"/>
<circle cx="245.09" cy="704.24" r="3.56" fill="#6cb072"/>
<circle cx="244.56" cy="715.74" r="3.55" fill="#6cb072"/>
<circle cx="240.56" cy="727.25" r="3.46" fill="#6cb072"/>
<circle cx="224.31" cy="738.76" r="3.01" fill="#6cb072"/>
<circle cx="222.98" cy="750.26" r="2.97" fill="#74ab79"/>
<circle cx="218.71" cy="761.77" r="2.82" fill="#85a288"/>
<circle cx="213.65" cy="773.28" r="2.62" fill="#929b92"/>
<circle cx="205.12" cy="784.79" r="2.13" fill="#885990"/>
<circle cx="204.85" cy="796.29" r="2.11" fill="#885990"/>
<circle cx="201.92" cy="807.80" r="1.60" fill="#84478f"/>
<text x="118.90" y="648.20" font-size="7.6" text-anchor="end" fill="#e2263c" stroke="#e2263c" stroke-width="0.12"  xml:space="preserve">Neutrophil</text>
<text x="118.90" y="659.71" font-size="7.6" text-anchor="end" fill="#4d4d4d" stroke="#4d4d4d" stroke-width="0.12"  xml:space="preserve">Type 1 T helper cell</text>
<text x="118.90" y="671.21" font-size="7.6" text-anchor="end" fill="#4d4d4d" stroke="#4d4d4d" stroke-width="0.12"  xml:space="preserve">Natural killer T cell</text>
<text x="118.90" y="682.72" font-size="7.6" text-anchor="end" fill="#4d4d4d" stroke="#4d4d4d" stroke-width="0.12"  xml:space="preserve">Activated CD4 T cell</text>
<text x="118.90" y="694.23" font-size="7.6" text-anchor="end" fill="#4d4d4d" stroke="#4d4d4d" stroke-width="0.12"  xml:space="preserve">MDSC</text>
<text x="118.90" y="705.74" font-size="7.6" text-anchor="end" fill="#4d4d4d" stroke="#4d4d4d" stroke-width="0.12"  xml:space="preserve">Immature  B cell</text>
<text x="118.90" y="717.24" font-size="7.6" text-anchor="end" fill="#4d4d4d" stroke="#4d4d4d" stroke-width="0.12"  xml:space="preserve">Effector memeory CD8 T cell</text>
<text x="118.90" y="728.75" font-size="7.6" text-anchor="end" fill="#4d4d4d" stroke="#4d4d4d" stroke-width="0.12"  xml:space="preserve">Activated B cell</text>
<text x="118.90" y="740.26" font-size="7.6" text-anchor="end" fill="#4d4d4d" stroke="#4d4d4d" stroke-width="0.12"  xml:space="preserve">Mast cell</text>
<text x="118.90" y="751.76" font-size="7.6" text-anchor="end" fill="#4d4d4d" stroke="#4d4d4d" stroke-width="0.12"  xml:space="preserve">Regulatory T cell</text>
<text x="118.90" y="763.27" font-size="7.6" text-anchor="end" fill="#4d4d4d" stroke="#4d4d4d" stroke-width="0.12"  xml:space="preserve">Type 17 T helper cell</text>
<text x="118.90" y="774.78" font-size="7.6" text-anchor="end" fill="#4d4d4d" stroke="#4d4d4d" stroke-width="0.12"  xml:space="preserve">Macrophage</text>
<text x="118.90" y="786.29" font-size="7.6" text-anchor="end" fill="#4d4d4d" stroke="#4d4d4d" stroke-width="0.12"  xml:space="preserve">Activated dendritic cell</text>
<text x="118.90" y="797.79" font-size="7.6" text-anchor="end" fill="#4d4d4d" stroke="#4d4d4d" stroke-width="0.12"  xml:space="preserve">Central memory CD8 T cell</text>
<text x="118.90" y="809.30" font-size="7.6" text-anchor="end" fill="#4d4d4d" stroke="#4d4d4d" stroke-width="0.12"  xml:space="preserve">T follicular helper cell</text>
<text x="133.00" y="823.60" font-size="7.4" text-anchor="middle" fill="#4d4d4d" stroke="#4d4d4d" stroke-width="0.12"  xml:space="preserve">0.0</text>
<text x="186.30" y="823.60" font-size="7.4" text-anchor="middle" fill="#4d4d4d" stroke="#4d4d4d" stroke-width="0.12"  xml:space="preserve">0.2</text>
<text x="239.60" y="823.60" font-size="7.4" text-anchor="middle" fill="#4d4d4d" stroke="#4d4d4d" stroke-width="0.12"  xml:space="preserve">0.4</text>
<text x="208.00" y="828.10" font-size="7.8" text-anchor="middle" fill="#1a1a1a" stroke="#1a1a1a" stroke-width="0.12"  xml:space="preserve">cor</text>
<text x="196.80" y="636.30" font-size="7.6" text-anchor="middle" fill="#1a1a1a" stroke="#1a1a1a" stroke-width="0.12"  xml:space="preserve">S100A12</text>
<text x="0.50" y="631.80" font-size="18.0" text-anchor="start" fill="#231f20" stroke="#231f20" stroke-width="0.12"  xml:space="preserve">g</text>
<text x="296.10" y="689.90" font-size="7.5" text-anchor="start" fill="#1a1a1a" stroke="#1a1a1a" stroke-width="0.12"  xml:space="preserve">abs(cor)</text>
<circle cx="300.1" cy="696.2" r="2.47" fill="#000"/>
<text x="307.10" y="698.00" font-size="7.5" text-anchor="start" fill="#1a1a1a" stroke="#1a1a1a" stroke-width="0.12"  xml:space="preserve">0.3</text>
<circle cx="300.1" cy="703.2" r="3.37" fill="#000"/>
<text x="307.10" y="705.00" font-size="7.5" text-anchor="start" fill="#1a1a1a" stroke="#1a1a1a" stroke-width="0.12"  xml:space="preserve">0.4</text>
<circle cx="300.1" cy="711.5" r="3.95" fill="#000"/>
<text x="307.10" y="713.30" font-size="7.5" text-anchor="start" fill="#1a1a1a" stroke="#1a1a1a" stroke-width="0.12"  xml:space="preserve">0.5</text>
<text x="296.10" y="728.80" font-size="7.5" text-anchor="start" fill="#1a1a1a" stroke="#1a1a1a" stroke-width="0.12"  xml:space="preserve">p.value</text>
<defs><linearGradient id="g822" x1="0" y1="0" x2="0" y2="1"><stop offset="0" stop-color="#823e8e"/><stop offset="0.5" stop-color="#969996"/><stop offset="1" stop-color="#6cb072"/></linearGradient></defs>
<rect x="295.9" y="733.0" width="7.2000000000000455" height="36.700000000000045" fill="url(#g822)"/>
<line x1="295.9" x2="297.29999999999995" y1="736.0" y2="736.0" stroke="#fff" stroke-width="0.6"/>
<line x1="301.70000000000005" x2="303.1" y1="736.0" y2="736.0" stroke="#fff" stroke-width="0.6"/>
<text x="305.90" y="737.60" font-size="7.5" text-anchor="start" fill="#1a1a1a" stroke="#1a1a1a" stroke-width="0.12"  xml:space="preserve">0.04</text>
<line x1="295.9" x2="297.29999999999995" y1="744.0999999999999" y2="744.0999999999999" stroke="#fff" stroke-width="0.6"/>
<line x1="301.70000000000005" x2="303.1" y1="744.0999999999999" y2="744.0999999999999" stroke="#fff" stroke-width="0.6"/>
<text x="305.90" y="745.70" font-size="7.5" text-anchor="start" fill="#1a1a1a" stroke="#1a1a1a" stroke-width="0.12"  xml:space="preserve">0.03</text>
<line x1="295.9" x2="297.29999999999995" y1="752.4" y2="752.4" stroke="#fff" stroke-width="0.6"/>
<line x1="301.70000000000005" x2="303.1" y1="752.4" y2="752.4" stroke="#fff" stroke-width="0.6"/>
<text x="305.90" y="754.00" font-size="7.5" text-anchor="start" fill="#1a1a1a" stroke="#1a1a1a" stroke-width="0.12"  xml:space="preserve">0.02</text>
<line x1="295.9" x2="297.29999999999995" y1="760.8" y2="760.8" stroke="#fff" stroke-width="0.6"/>
<line x1="301.70000000000005" x2="303.1" y1="760.8" y2="760.8" stroke="#fff" stroke-width="0.6"/>
<text x="305.90" y="762.40" font-size="7.5" text-anchor="start" fill="#1a1a1a" stroke="#1a1a1a" stroke-width="0.12"  xml:space="preserve">0.01</text>
</g>
<g>
<line x1="485.90" x2="485.90" y1="639.4" y2="813.6" stroke="#ececec" stroke-width="0.6"/>
<line x1="519.30" x2="519.30" y1="639.4" y2="813.6" stroke="#ececec" stroke-width="0.6"/>
<line x1="552.70" x2="552.70" y1="639.4" y2="813.6" stroke="#ececec" stroke-width="0.6"/>
<line x1="586.10" x2="586.10" y1="639.4" y2="813.6" stroke="#ececec" stroke-width="0.6"/>
<line x1="619.50" x2="619.50" y1="639.4" y2="813.6" stroke="#ececec" stroke-width="0.6"/>
<line x1="469.20" x2="469.20" y1="639.4" y2="813.6" stroke="#e6e6e6" stroke-width="1.0"/>
<line x1="502.60" x2="502.60" y1="639.4" y2="813.6" stroke="#e6e6e6" stroke-width="1.0"/>
<line x1="536.00" x2="536.00" y1="639.4" y2="813.6" stroke="#e6e6e6" stroke-width="1.0"/>
<line x1="569.40" x2="569.40" y1="639.4" y2="813.6" stroke="#e6e6e6" stroke-width="1.0"/>
<line x1="602.80" x2="602.80" y1="639.4" y2="813.6" stroke="#e6e6e6" stroke-width="1.0"/>
<line x1="464.3" x2="630.5" y1="650.10" y2="650.10" stroke="#e6e6e6" stroke-width="1.0"/>
<line x1="464.3" x2="630.5" y1="669.09" y2="669.09" stroke="#e6e6e6" stroke-width="1.0"/>
<line x1="464.3" x2="630.5" y1="688.08" y2="688.08" stroke="#e6e6e6" stroke-width="1.0"/>
<line x1="464.3" x2="630.5" y1="707.06" y2="707.06" stroke="#e6e6e6" stroke-width="1.0"/>
<line x1="464.3" x2="630.5" y1="726.05" y2="726.05" stroke="#e6e6e6" stroke-width="1.0"/>
<line x1="464.3" x2="630.5" y1="745.04" y2="745.04" stroke="#e6e6e6" stroke-width="1.0"/>
<line x1="464.3" x2="630.5" y1="764.02" y2="764.02" stroke="#e6e6e6" stroke-width="1.0"/>
<line x1="464.3" x2="630.5" y1="783.01" y2="783.01" stroke="#e6e6e6" stroke-width="1.0"/>
<line x1="464.3" x2="630.5" y1="802.00" y2="802.00" stroke="#e6e6e6" stroke-width="1.0"/>
<rect x="464.3" y="639.4" width="166.2" height="174.20000000000005" fill="none" stroke="#6a6a6a" stroke-width="1.0"/>
<line x1="462.7" x2="464.3" y1="650.10" y2="650.10" stroke="#333" stroke-width="0.8"/>
<line x1="462.7" x2="464.3" y1="669.09" y2="669.09" stroke="#333" stroke-width="0.8"/>
<line x1="462.7" x2="464.3" y1="688.08" y2="688.08" stroke="#333" stroke-width="0.8"/>
<line x1="462.7" x2="464.3" y1="707.06" y2="707.06" stroke="#333" stroke-width="0.8"/>
<line x1="462.7" x2="464.3" y1="726.05" y2="726.05" stroke="#333" stroke-width="0.8"/>
<line x1="462.7" x2="464.3" y1="745.04" y2="745.04" stroke="#333" stroke-width="0.8"/>
<line x1="462.7" x2="464.3" y1="764.02" y2="764.02" stroke="#333" stroke-width="0.8"/>
<line x1="462.7" x2="464.3" y1="783.01" y2="783.01" stroke="#333" stroke-width="0.8"/>
<line x1="462.7" x2="464.3" y1="802.00" y2="802.00" stroke="#333" stroke-width="0.8"/>
<line x1="469.20" x2="469.20" y1="813.6" y2="815.2" stroke="#333" stroke-width="0.8"/>
<line x1="502.60" x2="502.60" y1="813.6" y2="815.2" stroke="#333" stroke-width="0.8"/>
<line x1="536.00" x2="536.00" y1="813.6" y2="815.2" stroke="#333" stroke-width="0.8"/>
<line x1="569.40" x2="569.40" y1="813.6" y2="815.2" stroke="#333" stroke-width="0.8"/>
<line x1="602.80" x2="602.80" y1="813.6" y2="815.2" stroke="#333" stroke-width="0.8"/>
<line x1="536.00" x2="623.01" y1="650.10" y2="650.10" stroke="#050505" stroke-width="1.4"/>
<line x1="536.00" x2="618.83" y1="669.09" y2="669.09" stroke="#050505" stroke-width="1.4"/>
<line x1="536.00" x2="615.99" y1="688.08" y2="688.08" stroke="#050505" stroke-width="1.4"/>
<line x1="536.00" x2="604.47" y1="707.06" y2="707.06" stroke="#050505" stroke-width="1.4"/>
<line x1="536.00" x2="595.28" y1="726.05" y2="726.05" stroke="#050505" stroke-width="1.4"/>
<line x1="536.00" x2="594.78" y1="745.04" y2="745.04" stroke="#050505" stroke-width="1.4"/>
<line x1="536.00" x2="589.27" y1="764.02" y2="764.02" stroke="#050505" stroke-width="1.4"/>
<line x1="536.00" x2="588.94" y1="783.01" y2="783.01" stroke="#050505" stroke-width="1.4"/>
<line x1="536.00" x2="471.20" y1="802.00" y2="802.00" stroke="#050505" stroke-width="1.4"/>
<circle cx="623.01" cy="650.10" r="4.25" fill="#6cb072"/>
<circle cx="618.83" cy="669.09" r="4.08" fill="#6cb072"/>
<circle cx="615.99" cy="688.08" r="3.96" fill="#6cb072"/>
<circle cx="604.47" cy="707.06" r="3.39" fill="#6cb072"/>
<circle cx="595.28" cy="726.05" r="2.74" fill="#969996"/>
<circle cx="594.78" cy="745.04" r="2.70" fill="#969996"/>
<circle cx="589.27" cy="764.02" r="1.86" fill="#823e8e"/>
<circle cx="588.94" cy="783.01" r="1.60" fill="#823e8e"/>
<circle cx="471.20" cy="802.00" r="3.16" fill="#6cb072"/>
<text x="459.00" y="653.10" font-size="7.6" text-anchor="end" fill="#4d4d4d" stroke="#4d4d4d" stroke-width="0.12"  xml:space="preserve">Immature dendritic cell</text>
<text x="459.00" y="672.09" font-size="7.6" text-anchor="end" fill="#4d4d4d" stroke="#4d4d4d" stroke-width="0.12"  xml:space="preserve">Central memory CD4 T cell</text>
<text x="459.00" y="691.08" font-size="7.6" text-anchor="end" fill="#4d4d4d" stroke="#4d4d4d" stroke-width="0.12"  xml:space="preserve">Gamma delta T cell</text>
<text x="459.00" y="710.06" font-size="7.6" text-anchor="end" fill="#4d4d4d" stroke="#4d4d4d" stroke-width="0.12"  xml:space="preserve">Activated CD4 T cell</text>
<text x="459.00" y="729.05" font-size="7.6" text-anchor="end" fill="#4d4d4d" stroke="#4d4d4d" stroke-width="0.12"  xml:space="preserve">Activated dendritic cell</text>
<text x="459.00" y="748.04" font-size="7.6" text-anchor="end" fill="#4d4d4d" stroke="#4d4d4d" stroke-width="0.12"  xml:space="preserve">Central memory CD8 T cell</text>
<text x="459.00" y="767.02" font-size="7.6" text-anchor="end" fill="#4d4d4d" stroke="#4d4d4d" stroke-width="0.12"  xml:space="preserve">MDSC</text>
<text x="459.00" y="786.01" font-size="7.6" text-anchor="end" fill="#4d4d4d" stroke="#4d4d4d" stroke-width="0.12"  xml:space="preserve">Plasmacytoid dendritic cell</text>
<text x="459.00" y="805.00" font-size="7.6" text-anchor="end" fill="#4d4d4d" stroke="#4d4d4d" stroke-width="0.12"  xml:space="preserve">Activated B cell</text>
<text x="472.60" y="822.30" font-size="7.4" text-anchor="middle" fill="#4d4d4d" stroke="#4d4d4d" stroke-width="0.12"  xml:space="preserve">−0.4</text>
<text x="506.00" y="822.30" font-size="7.4" text-anchor="middle" fill="#4d4d4d" stroke="#4d4d4d" stroke-width="0.12"  xml:space="preserve">−0.2</text>
<text x="539.40" y="822.30" font-size="7.4" text-anchor="middle" fill="#4d4d4d" stroke="#4d4d4d" stroke-width="0.12"  xml:space="preserve">0.0</text>
<text x="572.80" y="822.30" font-size="7.4" text-anchor="middle" fill="#4d4d4d" stroke="#4d4d4d" stroke-width="0.12"  xml:space="preserve">0.2</text>
<text x="606.20" y="822.30" font-size="7.4" text-anchor="middle" fill="#4d4d4d" stroke="#4d4d4d" stroke-width="0.12"  xml:space="preserve">0.4</text>
<text x="549.40" y="827.20" font-size="7.8" text-anchor="middle" fill="#1a1a1a" stroke="#1a1a1a" stroke-width="0.12"  xml:space="preserve">cor</text>
<text x="545.30" y="636.00" font-size="7.4" text-anchor="middle" fill="#1a1a1a" stroke="#1a1a1a" stroke-width="0.12"  xml:space="preserve">TLR2</text>
<text x="354.80" y="635.80" font-size="17.7" text-anchor="start" fill="#231f20" stroke="#231f20" stroke-width="0.12"  xml:space="preserve">h</text>
<text x="637.80" y="684.20" font-size="7.5" text-anchor="start" fill="#1a1a1a" stroke="#1a1a1a" stroke-width="0.12"  xml:space="preserve">abs(cor)</text>
<circle cx="642.4" cy="690.6" r="2.67" fill="#000"/>
<text x="649.60" y="692.40" font-size="7.5" text-anchor="start" fill="#1a1a1a" stroke="#1a1a1a" stroke-width="0.12"  xml:space="preserve">0.35</text>
<circle cx="642.4" cy="697.6" r="3.29" fill="#000"/>
<text x="649.60" y="699.40" font-size="7.5" text-anchor="start" fill="#1a1a1a" stroke="#1a1a1a" stroke-width="0.12"  xml:space="preserve">0.40</text>
<circle cx="642.4" cy="705.2" r="3.74" fill="#000"/>
<text x="649.60" y="707.00" font-size="7.5" text-anchor="start" fill="#1a1a1a" stroke="#1a1a1a" stroke-width="0.12"  xml:space="preserve">0.45</text>
<circle cx="642.4" cy="714.7" r="4.11" fill="#000"/>
<text x="649.60" y="716.50" font-size="7.5" text-anchor="start" fill="#1a1a1a" stroke="#1a1a1a" stroke-width="0.12"  xml:space="preserve">0.50</text>
<text x="637.80" y="732.20" font-size="7.5" text-anchor="start" fill="#1a1a1a" stroke="#1a1a1a" stroke-width="0.12"  xml:space="preserve">p.value</text>
<defs><linearGradient id="g917" x1="0" y1="0" x2="0" y2="1"><stop offset="0" stop-color="#823e8e"/><stop offset="0.5" stop-color="#969996"/><stop offset="1" stop-color="#6cb072"/></linearGradient></defs>
<rect x="637.8" y="736.1" width="7.2000000000000455" height="37.0" fill="url(#g917)"/>
<line x1="637.8" x2="639.1999999999999" y1="740.6999999999999" y2="740.6999999999999" stroke="#fff" stroke-width="0.6"/>
<line x1="643.6" x2="645.0" y1="740.6999999999999" y2="740.6999999999999" stroke="#fff" stroke-width="0.6"/>
<text x="647.60" y="742.30" font-size="7.5" text-anchor="start" fill="#1a1a1a" stroke="#1a1a1a" stroke-width="0.12"  xml:space="preserve">0.015</text>
<line x1="637.8" x2="639.1999999999999" y1="751.4" y2="751.4" stroke="#fff" stroke-width="0.6"/>
<line x1="643.6" x2="645.0" y1="751.4" y2="751.4" stroke="#fff" stroke-width="0.6"/>
<text x="647.60" y="753.00" font-size="7.5" text-anchor="start" fill="#1a1a1a" stroke="#1a1a1a" stroke-width="0.12"  xml:space="preserve">0.010</text>
<line x1="637.8" x2="639.1999999999999" y1="762.0" y2="762.0" stroke="#fff" stroke-width="0.6"/>
<line x1="643.6" x2="645.0" y1="762.0" y2="762.0" stroke="#fff" stroke-width="0.6"/>
<text x="647.60" y="763.60" font-size="7.5" text-anchor="start" fill="#1a1a1a" stroke="#1a1a1a" stroke-width="0.12"  xml:space="preserve">0.005</text>
</g>
<g>
<line x1="148.15" x2="148.15" y1="850.3" y2="1031.3" stroke="#ececec" stroke-width="0.6"/>
<line x1="187.05" x2="187.05" y1="850.3" y2="1031.3" stroke="#ececec" stroke-width="0.6"/>
<line x1="225.95" x2="225.95" y1="850.3" y2="1031.3" stroke="#ececec" stroke-width="0.6"/>
<line x1="264.85" x2="264.85" y1="850.3" y2="1031.3" stroke="#ececec" stroke-width="0.6"/>
<line x1="128.70" x2="128.70" y1="850.3" y2="1031.3" stroke="#e6e6e6" stroke-width="1.0"/>
<line x1="167.60" x2="167.60" y1="850.3" y2="1031.3" stroke="#e6e6e6" stroke-width="1.0"/>
<line x1="206.50" x2="206.50" y1="850.3" y2="1031.3" stroke="#e6e6e6" stroke-width="1.0"/>
<line x1="245.40" x2="245.40" y1="850.3" y2="1031.3" stroke="#e6e6e6" stroke-width="1.0"/>
<line x1="284.30" x2="284.30" y1="850.3" y2="1031.3" stroke="#e6e6e6" stroke-width="1.0"/>
<line x1="120.5" x2="292.4" y1="855.30" y2="855.30" stroke="#e6e6e6" stroke-width="1.0"/>
<line x1="120.5" x2="292.4" y1="864.31" y2="864.31" stroke="#e6e6e6" stroke-width="1.0"/>
<line x1="120.5" x2="292.4" y1="873.31" y2="873.31" stroke="#e6e6e6" stroke-width="1.0"/>
<line x1="120.5" x2="292.4" y1="882.32" y2="882.32" stroke="#e6e6e6" stroke-width="1.0"/>
<line x1="120.5" x2="292.4" y1="891.32" y2="891.32" stroke="#e6e6e6" stroke-width="1.0"/>
<line x1="120.5" x2="292.4" y1="900.33" y2="900.33" stroke="#e6e6e6" stroke-width="1.0"/>
<line x1="120.5" x2="292.4" y1="909.33" y2="909.33" stroke="#e6e6e6" stroke-width="1.0"/>
<line x1="120.5" x2="292.4" y1="918.34" y2="918.34" stroke="#e6e6e6" stroke-width="1.0"/>
<line x1="120.5" x2="292.4" y1="927.34" y2="927.34" stroke="#e6e6e6" stroke-width="1.0"/>
<line x1="120.5" x2="292.4" y1="936.35" y2="936.35" stroke="#e6e6e6" stroke-width="1.0"/>
<line x1="120.5" x2="292.4" y1="945.35" y2="945.35" stroke="#e6e6e6" stroke-width="1.0"/>
<line x1="120.5" x2="292.4" y1="954.36" y2="954.36" stroke="#e6e6e6" stroke-width="1.0"/>
<line x1="120.5" x2="292.4" y1="963.36" y2="963.36" stroke="#e6e6e6" stroke-width="1.0"/>
<line x1="120.5" x2="292.4" y1="972.37" y2="972.37" stroke="#e6e6e6" stroke-width="1.0"/>
<line x1="120.5" x2="292.4" y1="981.37" y2="981.37" stroke="#e6e6e6" stroke-width="1.0"/>
<line x1="120.5" x2="292.4" y1="990.38" y2="990.38" stroke="#e6e6e6" stroke-width="1.0"/>
<line x1="120.5" x2="292.4" y1="999.38" y2="999.38" stroke="#e6e6e6" stroke-width="1.0"/>
<line x1="120.5" x2="292.4" y1="1008.39" y2="1008.39" stroke="#e6e6e6" stroke-width="1.0"/>
<line x1="120.5" x2="292.4" y1="1017.39" y2="1017.39" stroke="#e6e6e6" stroke-width="1.0"/>
<line x1="120.5" x2="292.4" y1="1026.40" y2="1026.40" stroke="#e6e6e6" stroke-width="1.0"/>
<rect x="120.5" y="850.3" width="171.89999999999998" height="181.0" fill="none" stroke="#6a6a6a" stroke-width="1.0"/>
<line x1="118.9" x2="120.5" y1="855.30" y2="855.30" stroke="#333" stroke-width="0.8"/>
<line x1="118.9" x2="120.5" y1="864.31" y2="864.31" stroke="#333" stroke-width="0.8"/>
<line x1="118.9" x2="120.5" y1="873.31" y2="873.31" stroke="#333" stroke-width="0.8"/>
<line x1="118.9" x2="120.5" y1="882.32" y2="882.32" stroke="#333" stroke-width="0.8"/>
<line x1="118.9" x2="120.5" y1="891.32" y2="891.32" stroke="#333" stroke-width="0.8"/>
<line x1="118.9" x2="120.5" y1="900.33" y2="900.33" stroke="#333" stroke-width="0.8"/>
<line x1="118.9" x2="120.5" y1="909.33" y2="909.33" stroke="#333" stroke-width="0.8"/>
<line x1="118.9" x2="120.5" y1="918.34" y2="918.34" stroke="#333" stroke-width="0.8"/>
<line x1="118.9" x2="120.5" y1="927.34" y2="927.34" stroke="#333" stroke-width="0.8"/>
<line x1="118.9" x2="120.5" y1="936.35" y2="936.35" stroke="#333" stroke-width="0.8"/>
<line x1="118.9" x2="120.5" y1="945.35" y2="945.35" stroke="#333" stroke-width="0.8"/>
<line x1="118.9" x2="120.5" y1="954.36" y2="954.36" stroke="#333" stroke-width="0.8"/>
<line x1="118.9" x2="120.5" y1="963.36" y2="963.36" stroke="#333" stroke-width="0.8"/>
<line x1="118.9" x2="120.5" y1="972.37" y2="972.37" stroke="#333" stroke-width="0.8"/>
<line x1="118.9" x2="120.5" y1="981.37" y2="981.37" stroke="#333" stroke-width="0.8"/>
<line x1="118.9" x2="120.5" y1="990.38" y2="990.38" stroke="#333" stroke-width="0.8"/>
<line x1="118.9" x2="120.5" y1="999.38" y2="999.38" stroke="#333" stroke-width="0.8"/>
<line x1="118.9" x2="120.5" y1="1008.39" y2="1008.39" stroke="#333" stroke-width="0.8"/>
<line x1="118.9" x2="120.5" y1="1017.39" y2="1017.39" stroke="#333" stroke-width="0.8"/>
<line x1="118.9" x2="120.5" y1="1026.40" y2="1026.40" stroke="#333" stroke-width="0.8"/>
<line x1="128.70" x2="128.70" y1="1031.3" y2="1032.8999999999999" stroke="#333" stroke-width="0.8"/>
<line x1="167.60" x2="167.60" y1="1031.3" y2="1032.8999999999999" stroke="#333" stroke-width="0.8"/>
<line x1="206.50" x2="206.50" y1="1031.3" y2="1032.8999999999999" stroke="#333" stroke-width="0.8"/>
<line x1="245.40" x2="245.40" y1="1031.3" y2="1032.8999999999999" stroke="#333" stroke-width="0.8"/>
<line x1="284.30" x2="284.30" y1="1031.3" y2="1032.8999999999999" stroke="#333" stroke-width="0.8"/>
<line x1="128.70" x2="285.08" y1="855.30" y2="855.30" stroke="#050505" stroke-width="1.4"/>
<line x1="128.70" x2="270.10" y1="864.31" y2="864.31" stroke="#050505" stroke-width="1.4"/>
<line x1="128.70" x2="269.13" y1="873.31" y2="873.31" stroke="#050505" stroke-width="1.4"/>
<line x1="128.70" x2="268.55" y1="882.32" y2="882.32" stroke="#050505" stroke-width="1.4"/>
<line x1="128.70" x2="264.07" y1="891.32" y2="891.32" stroke="#050505" stroke-width="1.4"/>
<line x1="128.70" x2="261.15" y1="900.33" y2="900.33" stroke="#050505" stroke-width="1.4"/>
<line x1="128.70" x2="246.18" y1="909.33" y2="909.33" stroke="#050505" stroke-width="1.4"/>
<line x1="128.70" x2="234.12" y1="918.34" y2="918.34" stroke="#050505" stroke-width="1.4"/>
<line x1="128.70" x2="233.15" y1="927.34" y2="927.34" stroke="#050505" stroke-width="1.4"/>
<line x1="128.70" x2="225.17" y1="936.35" y2="936.35" stroke="#050505" stroke-width="1.4"/>
<line x1="128.70" x2="224.00" y1="945.35" y2="945.35" stroke="#050505" stroke-width="1.4"/>
<line x1="128.70" x2="222.64" y1="954.36" y2="954.36" stroke="#050505" stroke-width="1.4"/>
<line x1="128.70" x2="221.48" y1="963.36" y2="963.36" stroke="#050505" stroke-width="1.4"/>
<line x1="128.70" x2="216.22" y1="972.37" y2="972.37" stroke="#050505" stroke-width="1.4"/>
<line x1="128.70" x2="207.67" y1="981.37" y2="981.37" stroke="#050505" stroke-width="1.4"/>
<line x1="128.70" x2="204.94" y1="990.38" y2="990.38" stroke="#050505" stroke-width="1.4"/>
<line x1="128.70" x2="203.00" y1="999.38" y2="999.38" stroke="#050505" stroke-width="1.4"/>
<line x1="128.70" x2="200.66" y1="1008.39" y2="1008.39" stroke="#050505" stroke-width="1.4"/>
<line x1="128.70" x2="187.24" y1="1017.39" y2="1017.39" stroke="#050505" stroke-width="1.4"/>
<line x1="128.70" x2="180.24" y1="1026.40" y2="1026.40" stroke="#050505" stroke-width="1.4"/>
<circle cx="285.08" cy="855.30" r="4.25" fill="#6cb072"/>
<circle cx="270.10" cy="864.31" r="4.05" fill="#6cb072"/>
<circle cx="269.13" cy="873.31" r="4.03" fill="#6cb072"/>
<circle cx="268.55" cy="882.32" r="4.02" fill="#6cb072"/>
<circle cx="264.07" cy="891.32" r="3.96" fill="#6cb072"/>
<circle cx="261.15" cy="900.33" r="3.92" fill="#6cb072"/>
<circle cx="246.18" cy="909.33" r="3.68" fill="#6cb072"/>
<circle cx="234.12" cy="918.34" r="3.47" fill="#6cb072"/>
<circle cx="233.15" cy="927.34" r="3.45" fill="#6cb072"/>
<circle cx="225.17" cy="936.35" r="3.30" fill="#6cb072"/>
<circle cx="224.00" cy="945.35" r="3.28" fill="#6cb072"/>
<circle cx="222.64" cy="954.36" r="3.25" fill="#6cb072"/>
<circle cx="221.48" cy="963.36" r="3.22" fill="#6cb072"/>
<circle cx="216.22" cy="972.37" r="3.11" fill="#6cb072"/>
<circle cx="207.67" cy="981.37" r="2.91" fill="#6cb072"/>
<circle cx="204.94" cy="990.38" r="2.83" fill="#6cb072"/>
<circle cx="203.00" cy="999.38" r="2.78" fill="#6cb072"/>
<circle cx="200.66" cy="1008.39" r="2.71" fill="#6cb072"/>
<circle cx="187.24" cy="1017.39" r="2.21" fill="#928794"/>
<circle cx="180.24" cy="1026.40" r="1.50" fill="#823e8e"/>
<text x="114.90" y="856.50" font-size="7.55" text-anchor="end" fill="#4d4d4d" stroke="#4d4d4d" stroke-width="0.12"  xml:space="preserve">Activated dendritic cell</text>
<text x="114.90" y="865.51" font-size="7.55" text-anchor="end" fill="#4d4d4d" stroke="#4d4d4d" stroke-width="0.12"  xml:space="preserve">Regulatory T cell</text>
<text x="114.90" y="874.51" font-size="7.55" text-anchor="end" fill="#4d4d4d" stroke="#4d4d4d" stroke-width="0.12"  xml:space="preserve">MDSC</text>
<text x="114.90" y="883.52" font-size="7.55" text-anchor="end" fill="#4d4d4d" stroke="#4d4d4d" stroke-width="0.12"  xml:space="preserve">Gamma delta T cell</text>
<text x="114.90" y="892.52" font-size="7.55" text-anchor="end" fill="#4d4d4d" stroke="#4d4d4d" stroke-width="0.12"  xml:space="preserve">Macrophage</text>
<text x="114.90" y="901.53" font-size="7.55" text-anchor="end" fill="#4d4d4d" stroke="#4d4d4d" stroke-width="0.12"  xml:space="preserve">Natural killer cell</text>
<text x="114.90" y="910.53" font-size="7.55" text-anchor="end" fill="#4d4d4d" stroke="#4d4d4d" stroke-width="0.12"  xml:space="preserve">Central memory CD8 T cell</text>
<text x="114.90" y="919.54" font-size="7.55" text-anchor="end" fill="#4d4d4d" stroke="#4d4d4d" stroke-width="0.12"  xml:space="preserve">Central memory CD4 T cell</text>
<text x="114.90" y="928.54" font-size="7.55" text-anchor="end" fill="#4d4d4d" stroke="#4d4d4d" stroke-width="0.12"  xml:space="preserve">Type 1 T helper cell</text>
<text x="114.90" y="937.55" font-size="7.55" text-anchor="end" fill="#4d4d4d" stroke="#4d4d4d" stroke-width="0.12"  xml:space="preserve">Activated CD4 T cell</text>
<text x="114.90" y="946.55" font-size="7.55" text-anchor="end" fill="#4d4d4d" stroke="#4d4d4d" stroke-width="0.12"  xml:space="preserve">Immature dendritic cell</text>
<text x="114.90" y="955.56" font-size="7.55" text-anchor="end" fill="#4d4d4d" stroke="#4d4d4d" stroke-width="0.12"  xml:space="preserve">Natural killer T cell</text>
<text x="114.90" y="964.56" font-size="7.55" text-anchor="end" fill="#4d4d4d" stroke="#4d4d4d" stroke-width="0.12"  xml:space="preserve">Plasmacytoid dendritic cell</text>
<text x="114.90" y="973.57" font-size="7.55" text-anchor="end" fill="#4d4d4d" stroke="#4d4d4d" stroke-width="0.12"  xml:space="preserve">T follicular helper cell</text>
<text x="114.90" y="982.57" font-size="7.55" text-anchor="end" fill="#4d4d4d" stroke="#4d4d4d" stroke-width="0.12"  xml:space="preserve">Mast cell</text>
<text x="114.90" y="991.58" font-size="7.55" text-anchor="end" fill="#4d4d4d" stroke="#4d4d4d" stroke-width="0.12"  xml:space="preserve">Type 17 T helper cell</text>
<text x="114.90" y="1000.58" font-size="7.55" text-anchor="end" fill="#4d4d4d" stroke="#4d4d4d" stroke-width="0.12"  xml:space="preserve">Immature  B cell</text>
<text x="114.90" y="1009.59" font-size="7.55" text-anchor="end" fill="#4d4d4d" stroke="#4d4d4d" stroke-width="0.12"  xml:space="preserve">Activated CD8 T cell</text>
<text x="114.90" y="1018.59" font-size="7.55" text-anchor="end" fill="#4d4d4d" stroke="#4d4d4d" stroke-width="0.12"  xml:space="preserve">Effector memeory CD8 T cell</text>
<text x="114.90" y="1027.60" font-size="7.55" text-anchor="end" fill="#4d4d4d" stroke="#4d4d4d" stroke-width="0.12"  xml:space="preserve">CD56bright natural killer cell</text>
<text x="130.70" y="1041.50" font-size="7.4" text-anchor="middle" fill="#4d4d4d" stroke="#4d4d4d" stroke-width="0.12"  xml:space="preserve">0.0</text>
<text x="169.60" y="1041.50" font-size="7.4" text-anchor="middle" fill="#4d4d4d" stroke="#4d4d4d" stroke-width="0.12"  xml:space="preserve">0.2</text>
<text x="208.50" y="1041.50" font-size="7.4" text-anchor="middle" fill="#4d4d4d" stroke="#4d4d4d" stroke-width="0.12"  xml:space="preserve">0.4</text>
<text x="247.40" y="1041.50" font-size="7.4" text-anchor="middle" fill="#4d4d4d" stroke="#4d4d4d" stroke-width="0.12"  xml:space="preserve">0.6</text>
<text x="286.30" y="1041.50" font-size="7.4" text-anchor="middle" fill="#4d4d4d" stroke="#4d4d4d" stroke-width="0.12"  xml:space="preserve">0.8</text>
<text x="208.00" y="1047.10" font-size="7.8" text-anchor="middle" fill="#1a1a1a" stroke="#1a1a1a" stroke-width="0.12"  xml:space="preserve">cor</text>
<text x="195.90" y="844.40" font-size="7.5" text-anchor="middle" fill="#1a1a1a" stroke="#1a1a1a" stroke-width="0.12"  xml:space="preserve">TYROBP</text>
<text x="0.60" y="846.20" font-size="18.0" text-anchor="start" fill="#231f20" stroke="#231f20" stroke-width="0.12"  xml:space="preserve">i</text>
<text x="300.20" y="886.90" font-size="7.4" text-anchor="start" fill="#1a1a1a" stroke="#1a1a1a" stroke-width="0.12"  xml:space="preserve">p.value</text>
<defs><linearGradient id="g1054" x1="0" y1="0" x2="0" y2="1"><stop offset="0" stop-color="#823e8e"/><stop offset="0.5" stop-color="#969996"/><stop offset="1" stop-color="#6cb072"/></linearGradient></defs>
<rect x="299.9" y="890.9" width="8.300000000000011" height="39.200000000000045" fill="url(#g1054)"/>
<line x1="299.9" x2="301.29999999999995" y1="896.3" y2="896.3" stroke="#fff" stroke-width="0.6"/>
<line x1="306.8" x2="308.2" y1="896.3" y2="896.3" stroke="#fff" stroke-width="0.6"/>
<text x="310.40" y="897.86" font-size="7.4" text-anchor="start" fill="#1a1a1a" stroke="#1a1a1a" stroke-width="0.12"  xml:space="preserve">0.04</text>
<line x1="299.9" x2="301.29999999999995" y1="904.3" y2="904.3" stroke="#fff" stroke-width="0.6"/>
<line x1="306.8" x2="308.2" y1="904.3" y2="904.3" stroke="#fff" stroke-width="0.6"/>
<text x="310.40" y="905.86" font-size="7.4" text-anchor="start" fill="#1a1a1a" stroke="#1a1a1a" stroke-width="0.12"  xml:space="preserve">0.03</text>
<line x1="299.9" x2="301.29999999999995" y1="913.0" y2="913.0" stroke="#fff" stroke-width="0.6"/>
<line x1="306.8" x2="308.2" y1="913.0" y2="913.0" stroke="#fff" stroke-width="0.6"/>
<text x="310.40" y="914.56" font-size="7.4" text-anchor="start" fill="#1a1a1a" stroke="#1a1a1a" stroke-width="0.12"  xml:space="preserve">0.02</text>
<line x1="299.9" x2="301.29999999999995" y1="921.0" y2="921.0" stroke="#fff" stroke-width="0.6"/>
<line x1="306.8" x2="308.2" y1="921.0" y2="921.0" stroke="#fff" stroke-width="0.6"/>
<text x="310.40" y="922.56" font-size="7.4" text-anchor="start" fill="#1a1a1a" stroke="#1a1a1a" stroke-width="0.12"  xml:space="preserve">0.01</text>
<text x="300.20" y="944.90" font-size="7.4" text-anchor="start" fill="#1a1a1a" stroke="#1a1a1a" stroke-width="0.12"  xml:space="preserve">abs(cor)</text>
<circle cx="305.1" cy="951.2" r="2.20" fill="#000"/>
<text x="312.90" y="952.96" font-size="7.4" text-anchor="start" fill="#1a1a1a" stroke="#1a1a1a" stroke-width="0.12"  xml:space="preserve">0.3</text>
<circle cx="305.1" cy="958.9" r="2.88" fill="#000"/>
<text x="312.90" y="960.66" font-size="7.4" text-anchor="start" fill="#1a1a1a" stroke="#1a1a1a" stroke-width="0.12"  xml:space="preserve">0.4</text>
<circle cx="305.1" cy="966.7" r="3.32" fill="#000"/>
<text x="312.90" y="968.46" font-size="7.4" text-anchor="start" fill="#1a1a1a" stroke="#1a1a1a" stroke-width="0.12"  xml:space="preserve">0.5</text>
<circle cx="305.1" cy="974.7" r="3.67" fill="#000"/>
<text x="312.90" y="976.46" font-size="7.4" text-anchor="start" fill="#1a1a1a" stroke="#1a1a1a" stroke-width="0.12"  xml:space="preserve">0.6</text>
<circle cx="305.1" cy="983.7" r="3.97" fill="#000"/>
<text x="312.90" y="985.46" font-size="7.4" text-anchor="start" fill="#1a1a1a" stroke="#1a1a1a" stroke-width="0.12"  xml:space="preserve">0.7</text>
<circle cx="305.1" cy="993.3" r="4.24" fill="#000"/>
<text x="312.90" y="995.06" font-size="7.4" text-anchor="start" fill="#1a1a1a" stroke="#1a1a1a" stroke-width="0.12"  xml:space="preserve">0.8</text>
</g>
<g>
<line x1="497.00" x2="497.00" y1="851.3" y2="1030.4" stroke="#ececec" stroke-width="0.6"/>
<line x1="536.40" x2="536.40" y1="851.3" y2="1030.4" stroke="#ececec" stroke-width="0.6"/>
<line x1="575.80" x2="575.80" y1="851.3" y2="1030.4" stroke="#ececec" stroke-width="0.6"/>
<line x1="615.20" x2="615.20" y1="851.3" y2="1030.4" stroke="#ececec" stroke-width="0.6"/>
<line x1="477.30" x2="477.30" y1="851.3" y2="1030.4" stroke="#e6e6e6" stroke-width="1.0"/>
<line x1="516.70" x2="516.70" y1="851.3" y2="1030.4" stroke="#e6e6e6" stroke-width="1.0"/>
<line x1="556.10" x2="556.10" y1="851.3" y2="1030.4" stroke="#e6e6e6" stroke-width="1.0"/>
<line x1="595.50" x2="595.50" y1="851.3" y2="1030.4" stroke="#e6e6e6" stroke-width="1.0"/>
<line x1="634.90" x2="634.90" y1="851.3" y2="1030.4" stroke="#e6e6e6" stroke-width="1.0"/>
<line x1="469.5" x2="637.9" y1="855.90" y2="855.90" stroke="#e6e6e6" stroke-width="1.0"/>
<line x1="469.5" x2="637.9" y1="864.39" y2="864.39" stroke="#e6e6e6" stroke-width="1.0"/>
<line x1="469.5" x2="637.9" y1="872.88" y2="872.88" stroke="#e6e6e6" stroke-width="1.0"/>
<line x1="469.5" x2="637.9" y1="881.37" y2="881.37" stroke="#e6e6e6" stroke-width="1.0"/>
<line x1="469.5" x2="637.9" y1="889.86" y2="889.86" stroke="#e6e6e6" stroke-width="1.0"/>
<line x1="469.5" x2="637.9" y1="898.35" y2="898.35" stroke="#e6e6e6" stroke-width="1.0"/>
<line x1="469.5" x2="637.9" y1="906.84" y2="906.84" stroke="#e6e6e6" stroke-width="1.0"/>
<line x1="469.5" x2="637.9" y1="915.33" y2="915.33" stroke="#e6e6e6" stroke-width="1.0"/>
<line x1="469.5" x2="637.9" y1="923.82" y2="923.82" stroke="#e6e6e6" stroke-width="1.0"/>
<line x1="469.5" x2="637.9" y1="932.31" y2="932.31" stroke="#e6e6e6" stroke-width="1.0"/>
<line x1="469.5" x2="637.9" y1="940.80" y2="940.80" stroke="#e6e6e6" stroke-width="1.0"/>
<line x1="469.5" x2="637.9" y1="949.29" y2="949.29" stroke="#e6e6e6" stroke-width="1.0"/>
<line x1="469.5" x2="637.9" y1="957.78" y2="957.78" stroke="#e6e6e6" stroke-width="1.0"/>
<line x1="469.5" x2="637.9" y1="966.27" y2="966.27" stroke="#e6e6e6" stroke-width="1.0"/>
<line x1="469.5" x2="637.9" y1="974.76" y2="974.76" stroke="#e6e6e6" stroke-width="1.0"/>
<line x1="469.5" x2="637.9" y1="983.25" y2="983.25" stroke="#e6e6e6" stroke-width="1.0"/>
<line x1="469.5" x2="637.9" y1="991.74" y2="991.74" stroke="#e6e6e6" stroke-width="1.0"/>
<line x1="469.5" x2="637.9" y1="1000.23" y2="1000.23" stroke="#e6e6e6" stroke-width="1.0"/>
<line x1="469.5" x2="637.9" y1="1008.72" y2="1008.72" stroke="#e6e6e6" stroke-width="1.0"/>
<line x1="469.5" x2="637.9" y1="1017.21" y2="1017.21" stroke="#e6e6e6" stroke-width="1.0"/>
<line x1="469.5" x2="637.9" y1="1025.70" y2="1025.70" stroke="#e6e6e6" stroke-width="1.0"/>
<rect x="469.5" y="851.3" width="168.39999999999998" height="179.10000000000014" fill="none" stroke="#6a6a6a" stroke-width="1.0"/>
<line x1="467.9" x2="469.5" y1="855.90" y2="855.90" stroke="#333" stroke-width="0.8"/>
<line x1="467.9" x2="469.5" y1="864.39" y2="864.39" stroke="#333" stroke-width="0.8"/>
<line x1="467.9" x2="469.5" y1="872.88" y2="872.88" stroke="#333" stroke-width="0.8"/>
<line x1="467.9" x2="469.5" y1="881.37" y2="881.37" stroke="#333" stroke-width="0.8"/>
<line x1="467.9" x2="469.5" y1="889.86" y2="889.86" stroke="#333" stroke-width="0.8"/>
<line x1="467.9" x2="469.5" y1="898.35" y2="898.35" stroke="#333" stroke-width="0.8"/>
<line x1="467.9" x2="469.5" y1="906.84" y2="906.84" stroke="#333" stroke-width="0.8"/>
<line x1="467.9" x2="469.5" y1="915.33" y2="915.33" stroke="#333" stroke-width="0.8"/>
<line x1="467.9" x2="469.5" y1="923.82" y2="923.82" stroke="#333" stroke-width="0.8"/>
<line x1="467.9" x2="469.5" y1="932.31" y2="932.31" stroke="#333" stroke-width="0.8"/>
<line x1="467.9" x2="469.5" y1="940.80" y2="940.80" stroke="#333" stroke-width="0.8"/>
<line x1="467.9" x2="469.5" y1="949.29" y2="949.29" stroke="#333" stroke-width="0.8"/>
<line x1="467.9" x2="469.5" y1="957.78" y2="957.78" stroke="#333" stroke-width="0.8"/>
<line x1="467.9" x2="469.5" y1="966.27" y2="966.27" stroke="#333" stroke-width="0.8"/>
<line x1="467.9" x2="469.5" y1="974.76" y2="974.76" stroke="#333" stroke-width="0.8"/>
<line x1="467.9" x2="469.5" y1="983.25" y2="983.25" stroke="#333" stroke-width="0.8"/>
<line x1="467.9" x2="469.5" y1="991.74" y2="991.74" stroke="#333" stroke-width="0.8"/>
<line x1="467.9" x2="469.5" y1="1000.23" y2="1000.23" stroke="#333" stroke-width="0.8"/>
<line x1="467.9" x2="469.5" y1="1008.72" y2="1008.72" stroke="#333" stroke-width="0.8"/>
<line x1="467.9" x2="469.5" y1="1017.21" y2="1017.21" stroke="#333" stroke-width="0.8"/>
<line x1="467.9" x2="469.5" y1="1025.70" y2="1025.70" stroke="#333" stroke-width="0.8"/>
<line x1="477.30" x2="477.30" y1="1030.4" y2="1032.0" stroke="#333" stroke-width="0.8"/>
<line x1="516.70" x2="516.70" y1="1030.4" y2="1032.0" stroke="#333" stroke-width="0.8"/>
<line x1="556.10" x2="556.10" y1="1030.4" y2="1032.0" stroke="#333" stroke-width="0.8"/>
<line x1="595.50" x2="595.50" y1="1030.4" y2="1032.0" stroke="#333" stroke-width="0.8"/>
<line x1="634.90" x2="634.90" y1="1030.4" y2="1032.0" stroke="#333" stroke-width="0.8"/>
<line x1="477.30" x2="630.37" y1="855.90" y2="855.90" stroke="#050505" stroke-width="1.4"/>
<line x1="477.30" x2="616.97" y1="864.39" y2="864.39" stroke="#050505" stroke-width="1.4"/>
<line x1="477.30" x2="602.39" y1="872.88" y2="872.88" stroke="#050505" stroke-width="1.4"/>
<line x1="477.30" x2="597.47" y1="881.37" y2="881.37" stroke="#050505" stroke-width="1.4"/>
<line x1="477.30" x2="597.47" y1="889.86" y2="889.86" stroke="#050505" stroke-width="1.4"/>
<line x1="477.30" x2="597.47" y1="898.35" y2="898.35" stroke="#050505" stroke-width="1.4"/>
<line x1="477.30" x2="595.89" y1="906.84" y2="906.84" stroke="#050505" stroke-width="1.4"/>
<line x1="477.30" x2="593.33" y1="915.33" y2="915.33" stroke="#050505" stroke-width="1.4"/>
<line x1="477.30" x2="590.97" y1="923.82" y2="923.82" stroke="#050505" stroke-width="1.4"/>
<line x1="477.30" x2="583.88" y1="932.31" y2="932.31" stroke="#050505" stroke-width="1.4"/>
<line x1="477.30" x2="581.91" y1="940.80" y2="940.80" stroke="#050505" stroke-width="1.4"/>
<line x1="477.30" x2="579.35" y1="949.29" y2="949.29" stroke="#050505" stroke-width="1.4"/>
<line x1="477.30" x2="576.59" y1="957.78" y2="957.78" stroke="#050505" stroke-width="1.4"/>
<line x1="477.30" x2="573.83" y1="966.27" y2="966.27" stroke="#050505" stroke-width="1.4"/>
<line x1="477.30" x2="572.65" y1="974.76" y2="974.76" stroke="#050505" stroke-width="1.4"/>
<line x1="477.30" x2="562.01" y1="983.25" y2="983.25" stroke="#050505" stroke-width="1.4"/>
<line x1="477.30" x2="560.04" y1="991.74" y2="991.74" stroke="#050505" stroke-width="1.4"/>
<line x1="477.30" x2="558.86" y1="1000.23" y2="1000.23" stroke="#050505" stroke-width="1.4"/>
<line x1="477.30" x2="555.51" y1="1008.72" y2="1008.72" stroke="#050505" stroke-width="1.4"/>
<line x1="477.30" x2="551.77" y1="1017.21" y2="1017.21" stroke="#050505" stroke-width="1.4"/>
<line x1="477.30" x2="539.16" y1="1025.70" y2="1025.70" stroke="#050505" stroke-width="1.4"/>
<circle cx="630.37" cy="855.90" r="4.35" fill="#6cb072"/>
<circle cx="616.97" cy="864.39" r="4.15" fill="#6cb072"/>
<circle cx="602.39" cy="872.88" r="3.91" fill="#6cb072"/>
<circle cx="597.47" cy="881.37" r="3.82" fill="#6cb072"/>
<circle cx="597.47" cy="889.86" r="3.82" fill="#6cb072"/>
<circle cx="597.47" cy="898.35" r="3.82" fill="#6cb072"/>
<circle cx="595.89" cy="906.84" r="3.79" fill="#6cb072"/>
<circle cx="593.33" cy="915.33" r="3.74" fill="#6cb072"/>
<circle cx="590.97" cy="923.82" r="3.70" fill="#6cb072"/>
<circle cx="583.88" cy="932.31" r="3.56" fill="#6cb072"/>
<circle cx="581.91" cy="940.80" r="3.51" fill="#6cb072"/>
<circle cx="579.35" cy="949.29" r="3.46" fill="#6cb072"/>
<circle cx="576.59" cy="957.78" r="3.40" fill="#6cb072"/>
<circle cx="573.83" cy="966.27" r="3.33" fill="#6cb072"/>
<circle cx="572.65" cy="974.76" r="3.31" fill="#6cb072"/>
<circle cx="562.01" cy="983.25" r="3.03" fill="#6cb072"/>
<circle cx="560.04" cy="991.74" r="2.97" fill="#6cb072"/>
<circle cx="558.86" cy="1000.23" r="2.93" fill="#6cb072"/>
<circle cx="555.51" cy="1008.72" r="2.82" fill="#74ab79"/>
<circle cx="551.77" cy="1017.21" r="2.69" fill="#7da780"/>
<circle cx="539.16" cy="1025.70" r="1.70" fill="#823e8e"/>
<text x="439.25" y="855.90" font-size="7.5" text-anchor="start" fill="#4d4d4d" stroke="#4d4d4d" stroke-width="0.12"  xml:space="preserve">MDSC</text>
<text x="397.45" y="864.39" font-size="7.5" text-anchor="start" fill="#4d4d4d" stroke="#4d4d4d" stroke-width="0.12"  xml:space="preserve">Activated CD4 T cell</text>
<text x="391.08" y="872.88" font-size="7.5" text-anchor="start" fill="#4d4d4d" stroke="#4d4d4d" stroke-width="0.12"  xml:space="preserve">Activated dendritic cell</text>
<text x="408.15" y="881.37" font-size="7.5" text-anchor="start" fill="#4d4d4d" stroke="#4d4d4d" stroke-width="0.12"  xml:space="preserve">Regulatory T cell</text>
<text x="397.45" y="889.86" font-size="7.5" text-anchor="start" fill="#4d4d4d" stroke="#4d4d4d" stroke-width="0.12"  xml:space="preserve">Activated CD8 T cell</text>
<text x="399.74" y="898.35" font-size="7.5" text-anchor="start" fill="#4d4d4d" stroke="#4d4d4d" stroke-width="0.12"  xml:space="preserve">Type 1 T helper cell</text>
<text x="409.82" y="906.84" font-size="7.5" text-anchor="start" fill="#4d4d4d" stroke="#4d4d4d" stroke-width="0.12"  xml:space="preserve">Immature  B cell</text>
<text x="376.82" y="915.33" font-size="7.5" text-anchor="start" fill="#4d4d4d" stroke="#4d4d4d" stroke-width="0.12"  xml:space="preserve">Central memory CD8 T cell</text>
<text x="371.60" y="923.82" font-size="7.5" text-anchor="start" fill="#4d4d4d" stroke="#4d4d4d" stroke-width="0.12"  xml:space="preserve">Effector memeory CD8 T cell</text>
<text x="378.47" y="932.31" font-size="7.5" text-anchor="start" fill="#4d4d4d" stroke="#4d4d4d" stroke-width="0.12"  xml:space="preserve">Plasmacytoid dendritic cell</text>
<text x="400.13" y="940.80" font-size="7.5" text-anchor="start" fill="#4d4d4d" stroke="#4d4d4d" stroke-width="0.12"  xml:space="preserve">Gamma delta T cell</text>
<text x="421.27" y="949.29" font-size="7.5" text-anchor="start" fill="#4d4d4d" stroke="#4d4d4d" stroke-width="0.12"  xml:space="preserve">Macrophage</text>
<text x="376.82" y="957.78" font-size="7.5" text-anchor="start" fill="#4d4d4d" stroke="#4d4d4d" stroke-width="0.12"  xml:space="preserve">Central memory CD4 T cell</text>
<text x="428.15" y="966.27" font-size="7.5" text-anchor="start" fill="#e2263c" stroke="#e2263c" stroke-width="0.12"  xml:space="preserve">Neutrophil</text>
<text x="390.32" y="974.76" font-size="7.5" text-anchor="start" fill="#4d4d4d" stroke="#4d4d4d" stroke-width="0.12"  xml:space="preserve">Immature dendritic cell</text>
<text x="432.37" y="983.25" font-size="7.5" text-anchor="start" fill="#4d4d4d" stroke="#4d4d4d" stroke-width="0.12"  xml:space="preserve">Mast cell</text>
<text x="429.68" y="991.74" font-size="7.5" text-anchor="start" fill="#4d4d4d" stroke="#4d4d4d" stroke-width="0.12"  xml:space="preserve">Monocyte</text>
<text x="403.19" y="1000.23" font-size="7.5" text-anchor="start" fill="#4d4d4d" stroke="#4d4d4d" stroke-width="0.12"  xml:space="preserve">Natural killer T cell</text>
<text x="373.50" y="1008.72" font-size="7.5" text-anchor="start" fill="#4d4d4d" stroke="#4d4d4d" stroke-width="0.12"  xml:space="preserve">CD56bright natural killer cell</text>
<text x="409.05" y="1017.21" font-size="7.5" text-anchor="start" fill="#4d4d4d" stroke="#4d4d4d" stroke-width="0.12"  xml:space="preserve">Natural killer cell</text>
<text x="395.03" y="1025.70" font-size="7.5" text-anchor="start" fill="#4d4d4d" stroke="#4d4d4d" stroke-width="0.12"  xml:space="preserve">T follicular helper cell</text>
<text x="479.60" y="1041.00" font-size="7.4" text-anchor="middle" fill="#4d4d4d" stroke="#4d4d4d" stroke-width="0.12"  xml:space="preserve">0.0</text>
<text x="519.00" y="1041.00" font-size="7.4" text-anchor="middle" fill="#4d4d4d" stroke="#4d4d4d" stroke-width="0.12"  xml:space="preserve">0.2</text>
<text x="558.40" y="1041.00" font-size="7.4" text-anchor="middle" fill="#4d4d4d" stroke="#4d4d4d" stroke-width="0.12"  xml:space="preserve">0.4</text>
<text x="597.80" y="1041.00" font-size="7.4" text-anchor="middle" fill="#4d4d4d" stroke="#4d4d4d" stroke-width="0.12"  xml:space="preserve">0.6</text>
<text x="637.20" y="1041.00" font-size="7.4" text-anchor="middle" fill="#4d4d4d" stroke="#4d4d4d" stroke-width="0.12"  xml:space="preserve">0.8</text>
<text x="555.60" y="1046.30" font-size="7.8" text-anchor="middle" fill="#1a1a1a" stroke="#1a1a1a" stroke-width="0.12"  xml:space="preserve">cor</text>
<text x="548.70" y="846.00" font-size="7.45" text-anchor="middle" fill="#1a1a1a" stroke="#1a1a1a" stroke-width="0.12"  xml:space="preserve">PTRPC</text>
<text x="362.80" y="846.40" font-size="18.0" text-anchor="start" fill="#231f20" stroke="#231f20" stroke-width="0.12"  xml:space="preserve">j</text>
<text x="645.20" y="897.00" font-size="7.5" text-anchor="start" fill="#1a1a1a" stroke="#1a1a1a" stroke-width="0.12"  xml:space="preserve">p.value</text>
<defs><linearGradient id="g1212" x1="0" y1="0" x2="0" y2="1"><stop offset="0" stop-color="#823e8e"/><stop offset="0.5" stop-color="#969996"/><stop offset="1" stop-color="#6cb072"/></linearGradient></defs>
<rect x="644.9" y="900.7" width="7.899999999999977" height="38.09999999999991" fill="url(#g1212)"/>
<line x1="644.9" x2="646.3" y1="906.8" y2="906.8" stroke="#fff" stroke-width="0.6"/>
<line x1="651.4" x2="652.8" y1="906.8" y2="906.8" stroke="#fff" stroke-width="0.6"/>
<text x="655.40" y="908.40" font-size="7.5" text-anchor="start" fill="#1a1a1a" stroke="#1a1a1a" stroke-width="0.12"  xml:space="preserve">0.015</text>
<line x1="644.9" x2="646.3" y1="917.5999999999999" y2="917.5999999999999" stroke="#fff" stroke-width="0.6"/>
<line x1="651.4" x2="652.8" y1="917.5999999999999" y2="917.5999999999999" stroke="#fff" stroke-width="0.6"/>
<text x="655.40" y="919.20" font-size="7.5" text-anchor="start" fill="#1a1a1a" stroke="#1a1a1a" stroke-width="0.12"  xml:space="preserve">0.010</text>
<line x1="644.9" x2="646.3" y1="928.3" y2="928.3" stroke="#fff" stroke-width="0.6"/>
<line x1="651.4" x2="652.8" y1="928.3" y2="928.3" stroke="#fff" stroke-width="0.6"/>
<text x="655.40" y="929.90" font-size="7.5" text-anchor="start" fill="#1a1a1a" stroke="#1a1a1a" stroke-width="0.12"  xml:space="preserve">0.005</text>
<text x="645.20" y="953.20" font-size="7.5" text-anchor="start" fill="#1a1a1a" stroke="#1a1a1a" stroke-width="0.12"  xml:space="preserve">abs(cor)</text>
<circle cx="649.6" cy="959.7" r="2.84" fill="#000"/>
<text x="656.80" y="961.50" font-size="7.5" text-anchor="start" fill="#1a1a1a" stroke="#1a1a1a" stroke-width="0.12"  xml:space="preserve">0.4</text>
<circle cx="649.6" cy="967.4" r="3.38" fill="#000"/>
<text x="656.80" y="969.20" font-size="7.5" text-anchor="start" fill="#1a1a1a" stroke="#1a1a1a" stroke-width="0.12"  xml:space="preserve">0.5</text>
<circle cx="649.6" cy="975.2" r="3.78" fill="#000"/>
<text x="656.80" y="977.00" font-size="7.5" text-anchor="start" fill="#1a1a1a" stroke="#1a1a1a" stroke-width="0.12"  xml:space="preserve">0.6</text>
<circle cx="649.6" cy="984.2" r="4.12" fill="#000"/>
<text x="656.80" y="986.00" font-size="7.5" text-anchor="start" fill="#1a1a1a" stroke="#1a1a1a" stroke-width="0.12"  xml:space="preserve">0.7</text>
</g>
</svg></body></html>
